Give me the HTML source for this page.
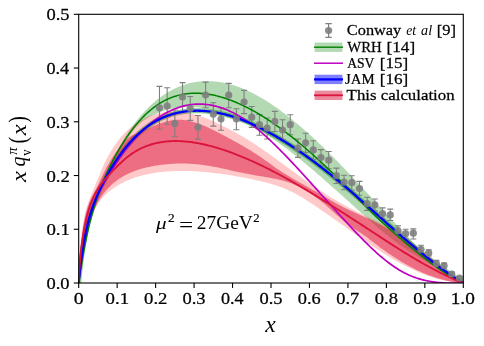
<!DOCTYPE html>
<html><head><meta charset="utf-8"><title>pion valence PDF</title>
<style>html,body{margin:0;padding:0;background:#fff;}svg{display:block;}text{font-family:"Liberation Serif",serif;fill:#000;}</style></head><body>
<svg width="484" height="346" viewBox="0 0 484 346">
<rect width="484" height="346" fill="#fff"/>
<defs><clipPath id="c"><rect x="78.7" y="14.3" width="384.6" height="268.7"/></clipPath></defs>
<g clip-path="url(#c)">
<path d="M78.70,283.00 L78.70,283.04 L78.71,283.04 L78.72,282.99 L78.74,282.90 L78.76,282.76 L78.79,282.58 L78.82,282.37 L78.85,282.11 L78.90,281.81 L78.94,281.47 L78.99,281.10 L79.05,280.68 L79.11,280.23 L79.17,279.75 L79.24,279.23 L79.32,278.68 L79.40,278.09 L79.48,277.47 L79.57,276.82 L79.67,276.14 L79.77,275.43 L79.87,274.70 L79.98,273.93 L80.09,273.13 L80.21,272.31 L80.33,271.47 L80.46,270.59 L80.59,269.70 L80.73,268.78 L80.87,267.84 L81.02,266.88 L81.17,265.89 L81.33,264.89 L81.49,263.87 L81.66,262.83 L81.83,261.77 L82.01,260.69 L82.19,259.60 L82.37,258.50 L82.57,257.38 L82.76,256.24 L82.96,255.10 L83.17,253.94 L83.38,252.77 L83.59,251.59 L83.81,250.40 L84.04,249.21 L84.27,248.00 L84.50,246.79 L84.74,245.57 L84.98,244.35 L85.23,243.12 L85.49,241.89 L85.74,240.66 L86.01,239.43 L86.28,238.19 L86.55,236.94 L86.83,235.70 L87.11,234.45 L87.40,233.21 L87.69,231.95 L87.99,230.70 L88.29,229.45 L88.60,228.19 L88.91,226.93 L89.22,225.67 L89.54,224.41 L89.87,223.15 L90.20,221.88 L90.54,220.62 L90.88,219.35 L91.22,218.08 L91.57,216.81 L91.93,215.54 L92.29,214.27 L92.65,213.00 L93.02,211.73 L93.40,210.46 L93.78,209.19 L94.16,207.92 L94.55,206.65 L94.94,205.37 L95.34,204.10 L95.75,202.83 L96.15,201.56 L96.57,200.29 L96.99,199.02 L97.41,197.75 L97.84,196.49 L98.27,195.22 L98.71,193.96 L99.15,192.69 L99.59,191.43 L100.05,190.17 L100.50,188.91 L100.96,187.65 L101.43,186.40 L101.90,185.14 L102.38,183.89 L102.86,182.64 L103.34,181.39 L103.83,180.15 L104.33,178.90 L104.83,177.67 L105.33,176.43 L105.84,175.19 L106.36,173.96 L106.88,172.73 L107.40,171.51 L107.93,170.29 L108.47,169.07 L109.00,167.85 L109.55,166.64 L110.10,165.44 L110.65,164.23 L111.21,163.03 L111.77,161.84 L112.34,160.65 L112.91,159.46 L113.49,158.28 L114.07,157.10 L114.66,155.93 L115.25,154.76 L115.85,153.60 L116.45,152.44 L117.05,151.29 L117.66,150.14 L118.28,149.00 L118.90,147.86 L119.53,146.73 L120.16,145.60 L120.79,144.48 L121.43,143.37 L122.08,142.26 L122.73,141.16 L123.38,140.07 L124.04,138.98 L124.71,137.90 L125.38,136.82 L126.05,135.75 L126.73,134.69 L127.41,133.64 L128.10,132.59 L128.79,131.55 L129.49,130.51 L130.20,129.49 L130.90,128.47 L131.62,127.46 L132.33,126.46 L133.06,125.46 L133.78,124.48 L134.51,123.50 L135.25,122.53 L135.99,121.57 L136.74,120.61 L137.49,119.67 L138.25,118.73 L139.01,117.80 L139.77,116.88 L140.54,115.98 L141.32,115.08 L142.10,114.18 L142.89,113.30 L143.68,112.43 L144.47,111.57 L145.27,110.72 L146.07,109.87 L146.88,109.04 L147.70,108.22 L148.52,107.41 L149.34,106.60 L150.17,105.81 L151.00,105.03 L151.84,104.26 L152.68,103.50 L153.53,102.75 L154.39,102.01 L155.24,101.29 L156.11,100.57 L156.97,99.87 L157.84,99.17 L158.72,98.49 L159.60,97.82 L160.49,97.16 L161.38,96.52 L162.28,95.88 L163.18,95.26 L164.08,94.65 L165.00,94.06 L165.91,93.47 L166.83,92.90 L167.76,92.34 L168.69,91.79 L169.62,91.25 L170.56,90.73 L171.51,90.22 L172.46,89.72 L173.41,89.24 L174.37,88.77 L175.33,88.31 L176.30,87.86 L177.27,87.43 L178.25,87.02 L179.24,86.61 L180.22,86.22 L181.22,85.84 L182.22,85.48 L183.22,85.13 L184.23,84.79 L185.24,84.47 L186.25,84.17 L187.28,83.87 L188.30,83.59 L189.33,83.33 L190.37,83.08 L191.41,82.85 L192.46,82.62 L193.51,82.42 L194.56,82.23 L195.63,82.05 L196.69,81.89 L197.76,81.75 L198.84,81.61 L199.92,81.50 L201.00,81.40 L202.09,81.31 L203.18,81.25 L204.28,81.19 L205.39,81.15 L206.50,81.13 L207.61,81.13 L208.73,81.14 L209.85,81.16 L210.98,81.21 L212.11,81.27 L213.25,81.34 L214.39,81.43 L215.54,81.54 L216.69,81.66 L217.85,81.81 L219.01,81.96 L220.18,82.14 L221.35,82.33 L222.53,82.54 L223.71,82.77 L224.90,83.01 L226.09,83.27 L227.28,83.55 L228.48,83.85 L229.69,84.16 L230.90,84.49 L232.11,84.84 L233.33,85.21 L234.56,85.59 L235.79,86.00 L237.02,86.42 L238.26,86.86 L239.51,87.31 L240.76,87.79 L242.01,88.28 L243.27,88.80 L244.53,89.33 L245.80,89.88 L247.07,90.45 L248.35,91.04 L249.63,91.64 L250.92,92.27 L252.21,92.91 L253.51,93.58 L254.81,94.26 L256.12,94.96 L257.43,95.68 L258.75,96.41 L260.07,97.17 L261.40,97.94 L262.73,98.73 L264.06,99.54 L265.40,100.36 L266.75,101.21 L268.10,102.07 L269.46,102.95 L270.82,103.84 L272.18,104.76 L273.55,105.69 L274.92,106.64 L276.30,107.60 L277.69,108.58 L279.08,109.58 L280.47,110.60 L281.87,111.63 L283.27,112.68 L284.68,113.75 L286.10,114.84 L287.51,115.94 L288.94,117.05 L290.36,118.18 L291.80,119.33 L293.23,120.50 L294.68,121.68 L296.12,122.88 L297.58,124.09 L299.03,125.32 L300.49,126.57 L301.96,127.83 L303.43,129.11 L304.91,130.40 L306.39,131.71 L307.87,133.03 L309.36,134.37 L310.86,135.72 L312.36,137.09 L313.86,138.48 L315.37,139.88 L316.89,141.29 L318.41,142.72 L319.93,144.16 L321.46,145.62 L323.00,147.09 L324.54,148.58 L326.08,150.09 L327.63,151.60 L329.18,153.13 L330.74,154.68 L332.30,156.24 L333.87,157.81 L335.44,159.40 L337.02,161.00 L338.60,162.62 L340.19,164.25 L341.78,165.89 L343.38,167.54 L344.98,169.21 L346.59,170.90 L348.20,172.59 L349.81,174.30 L351.44,176.02 L353.06,177.75 L354.69,179.49 L356.33,181.25 L357.97,183.01 L359.61,184.78 L361.26,186.56 L362.92,188.35 L364.58,190.15 L366.24,191.96 L367.91,193.78 L369.59,195.60 L371.26,197.43 L372.95,199.27 L374.64,201.11 L376.33,202.96 L378.03,204.81 L379.73,206.67 L381.44,208.53 L383.15,210.40 L384.87,212.27 L386.59,214.14 L388.32,216.02 L390.05,217.90 L391.79,219.78 L393.53,221.66 L395.28,223.55 L397.03,225.43 L398.79,227.31 L400.55,229.18 L402.31,231.06 L404.08,232.92 L405.86,234.79 L407.64,236.64 L409.42,238.48 L411.22,240.32 L413.01,242.14 L414.81,243.95 L416.61,245.75 L418.42,247.53 L420.24,249.30 L422.06,251.05 L423.88,252.78 L425.71,254.49 L427.54,256.19 L429.38,257.86 L431.23,259.51 L433.07,261.13 L434.93,262.73 L436.78,264.31 L438.65,265.86 L440.51,267.38 L442.39,268.87 L444.26,270.33 L446.15,271.76 L448.03,273.15 L449.92,274.51 L451.82,275.84 L453.72,277.13 L455.63,278.38 L457.54,279.60 L459.45,280.77 L461.37,281.91 L463.30,283.00 L463.30,283.00 L461.37,281.85 L459.45,280.72 L457.54,279.60 L455.63,278.49 L453.72,277.39 L451.82,276.29 L449.92,275.21 L448.03,274.13 L446.15,273.06 L444.26,272.00 L442.39,270.94 L440.51,269.88 L438.65,268.82 L436.78,267.77 L434.93,266.72 L433.07,265.66 L431.23,264.60 L429.38,263.54 L427.54,262.48 L425.71,261.41 L423.88,260.34 L422.06,259.26 L420.24,258.17 L418.42,257.07 L416.61,255.96 L414.81,254.84 L413.01,253.71 L411.22,252.57 L409.42,251.42 L407.64,250.24 L405.86,249.06 L404.08,247.85 L402.31,246.63 L400.55,245.39 L398.79,244.13 L397.03,242.85 L395.28,241.55 L393.53,240.23 L391.79,238.89 L390.05,237.54 L388.32,236.17 L386.59,234.78 L384.87,233.38 L383.15,231.96 L381.44,230.54 L379.73,229.10 L378.03,227.65 L376.33,226.20 L374.64,224.73 L372.95,223.26 L371.26,221.79 L369.59,220.31 L367.91,218.83 L366.24,217.34 L364.58,215.85 L362.92,214.37 L361.26,212.88 L359.61,211.40 L357.97,209.92 L356.33,208.44 L354.69,206.97 L353.06,205.50 L351.44,204.03 L349.81,202.57 L348.20,201.12 L346.59,199.67 L344.98,198.23 L343.38,196.79 L341.78,195.36 L340.19,193.93 L338.60,192.51 L337.02,191.09 L335.44,189.69 L333.87,188.29 L332.30,186.89 L330.74,185.51 L329.18,184.13 L327.63,182.76 L326.08,181.40 L324.54,180.04 L323.00,178.69 L321.46,177.36 L319.93,176.03 L318.41,174.70 L316.89,173.39 L315.37,172.09 L313.86,170.80 L312.36,169.51 L310.86,168.24 L309.36,166.98 L307.87,165.72 L306.39,164.48 L304.91,163.25 L303.43,162.03 L301.96,160.82 L300.49,159.62 L299.03,158.43 L297.58,157.26 L296.12,156.09 L294.68,154.94 L293.23,153.80 L291.80,152.68 L290.36,151.56 L288.94,150.46 L287.51,149.37 L286.10,148.30 L284.68,147.24 L283.27,146.19 L281.87,145.16 L280.47,144.14 L279.08,143.13 L277.69,142.14 L276.30,141.17 L274.92,140.20 L273.55,139.26 L272.18,138.32 L270.82,137.41 L269.46,136.50 L268.10,135.61 L266.75,134.73 L265.40,133.87 L264.06,133.03 L262.73,132.19 L261.40,131.37 L260.07,130.57 L258.75,129.78 L257.43,129.00 L256.12,128.24 L254.81,127.49 L253.51,126.75 L252.21,126.03 L250.92,125.32 L249.63,124.63 L248.35,123.95 L247.07,123.28 L245.80,122.63 L244.53,121.99 L243.27,121.37 L242.01,120.76 L240.76,120.16 L239.51,119.57 L238.26,119.00 L237.02,118.45 L235.79,117.90 L234.56,117.37 L233.33,116.86 L232.11,116.36 L230.90,115.87 L229.69,115.39 L228.48,114.93 L227.28,114.48 L226.09,114.04 L224.90,113.62 L223.71,113.21 L222.53,112.82 L221.35,112.43 L220.18,112.06 L219.01,111.71 L217.85,111.37 L216.69,111.04 L215.54,110.72 L214.39,110.41 L213.25,110.12 L212.11,109.85 L210.98,109.58 L209.85,109.33 L208.73,109.09 L207.61,108.86 L206.50,108.65 L205.39,108.45 L204.28,108.26 L203.18,108.09 L202.09,107.93 L201.00,107.78 L199.92,107.64 L198.84,107.51 L197.76,107.40 L196.69,107.30 L195.63,107.21 L194.56,107.14 L193.51,107.07 L192.46,107.02 L191.41,106.99 L190.37,106.96 L189.33,106.94 L188.30,106.94 L187.28,106.95 L186.25,106.97 L185.24,107.00 L184.23,107.05 L183.22,107.11 L182.22,107.17 L181.22,107.25 L180.22,107.35 L179.24,107.45 L178.25,107.56 L177.27,107.69 L176.30,107.83 L175.33,107.97 L174.37,108.13 L173.41,108.31 L172.46,108.49 L171.51,108.68 L170.56,108.89 L169.62,109.10 L168.69,109.33 L167.76,109.57 L166.83,109.82 L165.91,110.08 L165.00,110.35 L164.08,110.63 L163.18,110.92 L162.28,111.22 L161.38,111.54 L160.49,111.86 L159.60,112.19 L158.72,112.54 L157.84,112.89 L156.97,113.26 L156.11,113.63 L155.24,114.02 L154.39,114.42 L153.53,114.82 L152.68,115.24 L151.84,115.67 L151.00,116.10 L150.17,116.55 L149.34,117.01 L148.52,117.47 L147.70,117.95 L146.88,118.44 L146.07,118.94 L145.27,119.45 L144.47,119.98 L143.68,120.52 L142.89,121.09 L142.10,121.67 L141.32,122.28 L140.54,122.92 L139.77,123.57 L139.01,124.26 L138.25,124.97 L137.49,125.72 L136.74,126.50 L135.99,127.31 L135.25,128.15 L134.51,129.02 L133.78,129.91 L133.06,130.83 L132.33,131.77 L131.62,132.72 L130.90,133.69 L130.20,134.66 L129.49,135.65 L128.79,136.65 L128.10,137.64 L127.41,138.64 L126.73,139.65 L126.05,140.65 L125.38,141.66 L124.71,142.67 L124.04,143.69 L123.38,144.70 L122.73,145.72 L122.08,146.74 L121.43,147.77 L120.79,148.80 L120.16,149.83 L119.53,150.87 L118.90,151.90 L118.28,152.95 L117.66,153.99 L117.05,155.04 L116.45,156.09 L115.85,157.15 L115.25,158.21 L114.66,159.27 L114.07,160.34 L113.49,161.41 L112.91,162.48 L112.34,163.56 L111.77,164.64 L111.21,165.73 L110.65,166.82 L110.10,167.91 L109.55,169.01 L109.00,170.11 L108.47,171.22 L107.93,172.33 L107.40,173.44 L106.88,174.56 L106.36,175.69 L105.84,176.82 L105.33,177.95 L104.83,179.09 L104.33,180.23 L103.83,181.38 L103.34,182.53 L102.86,183.69 L102.38,184.85 L101.90,186.02 L101.43,187.19 L100.96,188.37 L100.50,189.55 L100.05,190.74 L99.59,191.93 L99.15,193.13 L98.71,194.33 L98.27,195.54 L97.84,196.76 L97.41,197.98 L96.99,199.20 L96.57,200.44 L96.15,201.67 L95.75,202.92 L95.34,204.17 L94.94,205.42 L94.55,206.68 L94.16,207.95 L93.78,209.22 L93.40,210.50 L93.02,211.78 L92.65,213.08 L92.29,214.37 L91.93,215.67 L91.57,216.98 L91.22,218.29 L90.88,219.61 L90.54,220.93 L90.20,222.25 L89.87,223.58 L89.54,224.91 L89.22,226.24 L88.91,227.58 L88.60,228.91 L88.29,230.25 L87.99,231.60 L87.69,232.94 L87.40,234.29 L87.11,235.63 L86.83,236.98 L86.55,238.33 L86.28,239.68 L86.01,241.02 L85.74,242.37 L85.49,243.72 L85.23,245.06 L84.98,246.40 L84.74,247.72 L84.50,249.03 L84.27,250.33 L84.04,251.60 L83.81,252.86 L83.59,254.08 L83.38,255.28 L83.17,256.46 L82.96,257.61 L82.76,258.73 L82.57,259.83 L82.37,260.90 L82.19,261.95 L82.01,262.97 L81.83,263.96 L81.66,264.93 L81.49,265.88 L81.33,266.80 L81.17,267.69 L81.02,268.56 L80.87,269.41 L80.73,270.22 L80.59,271.02 L80.46,271.78 L80.33,272.53 L80.21,273.24 L80.09,273.94 L79.98,274.60 L79.87,275.24 L79.77,275.86 L79.67,276.45 L79.57,277.01 L79.48,277.56 L79.40,278.07 L79.32,278.56 L79.24,279.03 L79.17,279.47 L79.11,279.88 L79.05,280.27 L78.99,280.63 L78.94,280.97 L78.90,281.29 L78.85,281.58 L78.82,281.84 L78.79,282.08 L78.76,282.30 L78.74,282.49 L78.72,282.65 L78.71,282.79 L78.70,282.91 L78.70,283.00Z" fill="#008000" fill-opacity="0.3"/>
<path d="M78.70,283.00 L78.70,282.86 L78.71,282.67 L78.72,282.43 L78.74,282.15 L78.76,281.82 L78.79,281.46 L78.82,281.05 L78.85,280.60 L78.90,280.11 L78.94,279.59 L78.99,279.02 L79.05,278.42 L79.11,277.79 L79.17,277.11 L79.24,276.41 L79.32,275.67 L79.40,274.90 L79.48,274.10 L79.57,273.27 L79.67,272.41 L79.77,271.52 L79.87,270.61 L79.98,269.67 L80.09,268.70 L80.21,267.72 L80.33,266.70 L80.46,265.67 L80.59,264.61 L80.73,263.54 L80.87,262.44 L81.02,261.33 L81.17,260.20 L81.33,259.05 L81.49,257.89 L81.66,256.71 L81.83,255.52 L82.01,254.32 L82.19,253.10 L82.37,251.88 L82.57,250.64 L82.76,249.40 L82.96,248.15 L83.17,246.89 L83.38,245.63 L83.59,244.36 L83.81,243.09 L84.04,241.81 L84.27,240.54 L84.50,239.26 L84.74,237.98 L84.98,236.71 L85.23,235.43 L85.49,234.16 L85.74,232.90 L86.01,231.63 L86.28,230.38 L86.55,229.13 L86.83,227.89 L87.11,226.66 L87.40,225.43 L87.69,224.22 L87.99,223.02 L88.29,221.83 L88.60,220.66 L88.91,219.49 L89.22,218.34 L89.54,217.19 L89.87,216.06 L90.20,214.94 L90.54,213.82 L90.88,212.72 L91.22,211.62 L91.57,210.54 L91.93,209.46 L92.29,208.39 L92.65,207.33 L93.02,206.28 L93.40,205.23 L93.78,204.19 L94.16,203.16 L94.55,202.13 L94.94,201.11 L95.34,200.10 L95.75,199.09 L96.15,198.09 L96.57,197.09 L96.99,196.10 L97.41,195.11 L97.84,194.12 L98.27,193.14 L98.71,192.16 L99.15,191.19 L99.59,190.22 L100.05,189.25 L100.50,188.28 L100.96,187.32 L101.43,186.35 L101.90,185.39 L102.38,184.43 L102.86,183.47 L103.34,182.51 L103.83,181.55 L104.33,180.59 L104.83,179.64 L105.33,178.68 L105.84,177.73 L106.36,176.77 L106.88,175.82 L107.40,174.87 L107.93,173.92 L108.47,172.98 L109.00,172.04 L109.55,171.10 L110.10,170.16 L110.65,169.22 L111.21,168.29 L111.77,167.36 L112.34,166.43 L112.91,165.51 L113.49,164.59 L114.07,163.67 L114.66,162.75 L115.25,161.84 L115.85,160.94 L116.45,160.03 L117.05,159.14 L117.66,158.24 L118.28,157.35 L118.90,156.47 L119.53,155.59 L120.16,154.71 L120.79,153.84 L121.43,152.97 L122.08,152.11 L122.73,151.26 L123.38,150.41 L124.04,149.57 L124.71,148.73 L125.38,147.89 L126.05,147.07 L126.73,146.25 L127.41,145.43 L128.10,144.63 L128.79,143.83 L129.49,143.03 L130.20,142.24 L130.90,141.46 L131.62,140.69 L132.33,139.93 L133.06,139.17 L133.78,138.42 L134.51,137.67 L135.25,136.94 L135.99,136.21 L136.74,135.49 L137.49,134.78 L138.25,134.08 L139.01,133.38 L139.77,132.70 L140.54,132.02 L141.32,131.35 L142.10,130.69 L142.89,130.04 L143.68,129.40 L144.47,128.77 L145.27,128.15 L146.07,127.54 L146.88,126.94 L147.70,126.35 L148.52,125.76 L149.34,125.19 L150.17,124.63 L151.00,124.08 L151.84,123.54 L152.68,123.01 L153.53,122.50 L154.39,121.99 L155.24,121.49 L156.11,121.01 L156.97,120.53 L157.84,120.07 L158.72,119.62 L159.60,119.17 L160.49,118.74 L161.38,118.32 L162.28,117.91 L163.18,117.52 L164.08,117.13 L165.00,116.75 L165.91,116.39 L166.83,116.04 L167.76,115.69 L168.69,115.36 L169.62,115.04 L170.56,114.73 L171.51,114.44 L172.46,114.15 L173.41,113.88 L174.37,113.61 L175.33,113.36 L176.30,113.12 L177.27,112.89 L178.25,112.67 L179.24,112.46 L180.22,112.27 L181.22,112.08 L182.22,111.91 L183.22,111.75 L184.23,111.60 L185.24,111.46 L186.25,111.34 L187.28,111.22 L188.30,111.12 L189.33,111.03 L190.37,110.95 L191.41,110.88 L192.46,110.83 L193.51,110.78 L194.56,110.75 L195.63,110.73 L196.69,110.72 L197.76,110.72 L198.84,110.74 L199.92,110.77 L201.00,110.81 L202.09,110.86 L203.18,110.92 L204.28,110.99 L205.39,111.08 L206.50,111.18 L207.61,111.29 L208.73,111.41 L209.85,111.55 L210.98,111.69 L212.11,111.85 L213.25,112.03 L214.39,112.21 L215.54,112.41 L216.69,112.61 L217.85,112.83 L219.01,113.07 L220.18,113.31 L221.35,113.57 L222.53,113.84 L223.71,114.12 L224.90,114.42 L226.09,114.72 L227.28,115.04 L228.48,115.38 L229.69,115.72 L230.90,116.08 L232.11,116.45 L233.33,116.83 L234.56,117.23 L235.79,117.63 L237.02,118.05 L238.26,118.49 L239.51,118.93 L240.76,119.39 L242.01,119.86 L243.27,120.35 L244.53,120.84 L245.80,121.35 L247.07,121.87 L248.35,122.41 L249.63,122.96 L250.92,123.52 L252.21,124.09 L253.51,124.68 L254.81,125.28 L256.12,125.89 L257.43,126.51 L258.75,127.15 L260.07,127.80 L261.40,128.46 L262.73,129.14 L264.06,129.83 L265.40,130.53 L266.75,131.24 L268.10,131.97 L269.46,132.70 L270.82,133.45 L272.18,134.22 L273.55,134.99 L274.92,135.78 L276.30,136.58 L277.69,137.39 L279.08,138.22 L280.47,139.05 L281.87,139.90 L283.27,140.76 L284.68,141.64 L286.10,142.53 L287.51,143.42 L288.94,144.33 L290.36,145.26 L291.80,146.19 L293.23,147.14 L294.68,148.10 L296.12,149.07 L297.58,150.05 L299.03,151.05 L300.49,152.06 L301.96,153.08 L303.43,154.11 L304.91,155.15 L306.39,156.21 L307.87,157.27 L309.36,158.35 L310.86,159.44 L312.36,160.55 L313.86,161.66 L315.37,162.79 L316.89,163.93 L318.41,165.08 L319.93,166.24 L321.46,167.41 L323.00,168.60 L324.54,169.80 L326.08,171.00 L327.63,172.23 L329.18,173.46 L330.74,174.70 L332.30,175.96 L333.87,177.22 L335.44,178.50 L337.02,179.79 L338.60,181.09 L340.19,182.41 L341.78,183.73 L343.38,185.07 L344.98,186.41 L346.59,187.77 L348.20,189.14 L349.81,190.52 L351.44,191.91 L353.06,193.32 L354.69,194.73 L356.33,196.16 L357.97,197.59 L359.61,199.04 L361.26,200.49 L362.92,201.95 L364.58,203.42 L366.24,204.90 L367.91,206.38 L369.59,207.87 L371.26,209.37 L372.95,210.87 L374.64,212.38 L376.33,213.89 L378.03,215.41 L379.73,216.93 L381.44,218.45 L383.15,219.98 L384.87,221.51 L386.59,223.04 L388.32,224.57 L390.05,226.10 L391.79,227.64 L393.53,229.17 L395.28,230.70 L397.03,232.24 L398.79,233.77 L400.55,235.30 L402.31,236.83 L404.08,238.35 L405.86,239.88 L407.64,241.39 L409.42,242.91 L411.22,244.42 L413.01,245.92 L414.81,247.42 L416.61,248.92 L418.42,250.40 L420.24,251.89 L422.06,253.36 L423.88,254.82 L425.71,256.28 L427.54,257.73 L429.38,259.17 L431.23,260.60 L433.07,262.02 L434.93,263.43 L436.78,264.83 L438.65,266.22 L440.51,267.59 L442.39,268.95 L444.26,270.31 L446.15,271.64 L448.03,272.97 L449.92,274.27 L451.82,275.57 L453.72,276.85 L455.63,278.11 L457.54,279.36 L459.45,280.59 L461.37,281.80 L463.30,283.00" fill="none" stroke="#008000" stroke-opacity="0.45" stroke-width="5"/>
<path d="M78.70,283.00 L78.70,281.81 L78.71,280.60 L78.72,279.36 L78.74,278.09 L78.76,276.80 L78.79,275.48 L78.82,274.15 L78.85,272.79 L78.90,271.42 L78.94,270.03 L78.99,268.62 L79.05,267.19 L79.11,265.76 L79.17,264.31 L79.24,262.85 L79.32,261.38 L79.40,259.90 L79.48,258.41 L79.57,256.92 L79.67,255.42 L79.77,253.92 L79.87,252.42 L79.98,250.92 L80.09,249.42 L80.21,247.92 L80.33,246.42 L80.46,244.93 L80.59,243.44 L80.73,241.96 L80.87,240.49 L81.02,239.02 L81.17,237.57 L81.33,236.13 L81.49,234.71 L81.66,233.29 L81.83,231.90 L82.01,230.52 L82.19,229.16 L82.37,227.82 L82.57,226.51 L82.76,225.21 L82.96,223.94 L83.17,222.69 L83.38,221.47 L83.59,220.28 L83.81,219.11 L84.04,217.96 L84.27,216.84 L84.50,215.74 L84.74,214.67 L84.98,213.62 L85.23,212.58 L85.49,211.57 L85.74,210.58 L86.01,209.61 L86.28,208.65 L86.55,207.72 L86.83,206.80 L87.11,205.89 L87.40,204.99 L87.69,204.11 L87.99,203.24 L88.29,202.38 L88.60,201.52 L88.91,200.67 L89.22,199.83 L89.54,198.99 L89.87,198.16 L90.20,197.32 L90.54,196.49 L90.88,195.65 L91.22,194.81 L91.57,193.97 L91.93,193.12 L92.29,192.27 L92.65,191.41 L93.02,190.54 L93.40,189.66 L93.78,188.76 L94.16,187.86 L94.55,186.94 L94.94,186.01 L95.34,185.06 L95.75,184.09 L96.15,183.10 L96.57,182.09 L96.99,181.06 L97.41,180.01 L97.84,178.95 L98.27,177.87 L98.71,176.78 L99.15,175.68 L99.59,174.57 L100.05,173.46 L100.50,172.35 L100.96,171.23 L101.43,170.12 L101.90,169.02 L102.38,167.92 L102.86,166.82 L103.34,165.74 L103.83,164.67 L104.33,163.61 L104.83,162.56 L105.33,161.52 L105.84,160.49 L106.36,159.47 L106.88,158.46 L107.40,157.47 L107.93,156.48 L108.47,155.50 L109.00,154.53 L109.55,153.57 L110.10,152.62 L110.65,151.69 L111.21,150.76 L111.77,149.84 L112.34,148.93 L112.91,148.04 L113.49,147.15 L114.07,146.28 L114.66,145.41 L115.25,144.56 L115.85,143.71 L116.45,142.88 L117.05,142.06 L117.66,141.25 L118.28,140.44 L118.90,139.65 L119.53,138.87 L120.16,138.10 L120.79,137.34 L121.43,136.59 L122.08,135.85 L122.73,135.13 L123.38,134.41 L124.04,133.70 L124.71,133.01 L125.38,132.32 L126.05,131.65 L126.73,130.99 L127.41,130.33 L128.10,129.69 L128.79,129.06 L129.49,128.44 L130.20,127.83 L130.90,127.23 L131.62,126.65 L132.33,126.07 L133.06,125.50 L133.78,124.95 L134.51,124.41 L135.25,123.87 L135.99,123.35 L136.74,122.84 L137.49,122.34 L138.25,121.85 L139.01,121.37 L139.77,120.91 L140.54,120.45 L141.32,120.01 L142.10,119.57 L142.89,119.15 L143.68,118.74 L144.47,118.34 L145.27,117.95 L146.07,117.58 L146.88,117.21 L147.70,116.86 L148.52,116.51 L149.34,116.18 L150.17,115.86 L151.00,115.55 L151.84,115.25 L152.68,114.96 L153.53,114.69 L154.39,114.43 L155.24,114.17 L156.11,113.93 L156.97,113.70 L157.84,113.48 L158.72,113.28 L159.60,113.08 L160.49,112.90 L161.38,112.73 L162.28,112.57 L163.18,112.42 L164.08,112.28 L165.00,112.16 L165.91,112.05 L166.83,111.95 L167.76,111.86 L168.69,111.78 L169.62,111.72 L170.56,111.67 L171.51,111.63 L172.46,111.61 L173.41,111.60 L174.37,111.60 L175.33,111.61 L176.30,111.64 L177.27,111.68 L178.25,111.73 L179.24,111.79 L180.22,111.87 L181.22,111.97 L182.22,112.07 L183.22,112.19 L184.23,112.32 L185.24,112.47 L186.25,112.63 L187.28,112.80 L188.30,112.99 L189.33,113.19 L190.37,113.41 L191.41,113.64 L192.46,113.88 L193.51,114.14 L194.56,114.42 L195.63,114.70 L196.69,115.01 L197.76,115.32 L198.84,115.65 L199.92,116.00 L201.00,116.36 L202.09,116.73 L203.18,117.12 L204.28,117.53 L205.39,117.95 L206.50,118.39 L207.61,118.84 L208.73,119.30 L209.85,119.78 L210.98,120.27 L212.11,120.77 L213.25,121.28 L214.39,121.81 L215.54,122.35 L216.69,122.90 L217.85,123.46 L219.01,124.02 L220.18,124.60 L221.35,125.19 L222.53,125.78 L223.71,126.39 L224.90,127.00 L226.09,127.62 L227.28,128.24 L228.48,128.87 L229.69,129.51 L230.90,130.15 L232.11,130.80 L233.33,131.45 L234.56,132.11 L235.79,132.78 L237.02,133.46 L238.26,134.14 L239.51,134.84 L240.76,135.55 L242.01,136.26 L243.27,136.99 L244.53,137.74 L245.80,138.49 L247.07,139.27 L248.35,140.05 L249.63,140.85 L250.92,141.67 L252.21,142.49 L253.51,143.33 L254.81,144.18 L256.12,145.05 L257.43,145.92 L258.75,146.81 L260.07,147.71 L261.40,148.62 L262.73,149.54 L264.06,150.46 L265.40,151.40 L266.75,152.35 L268.10,153.30 L269.46,154.27 L270.82,155.24 L272.18,156.22 L273.55,157.21 L274.92,158.20 L276.30,159.20 L277.69,160.20 L279.08,161.21 L280.47,162.23 L281.87,163.25 L283.27,164.28 L284.68,165.31 L286.10,166.34 L287.51,167.38 L288.94,168.42 L290.36,169.46 L291.80,170.50 L293.23,171.55 L294.68,172.60 L296.12,173.64 L297.58,174.69 L299.03,175.74 L300.49,176.79 L301.96,177.84 L303.43,178.89 L304.91,179.94 L306.39,180.98 L307.87,182.02 L309.36,183.06 L310.86,184.10 L312.36,185.14 L313.86,186.17 L315.37,187.20 L316.89,188.22 L318.41,189.24 L319.93,190.25 L321.46,191.26 L323.00,192.26 L324.54,193.26 L326.08,194.24 L327.63,195.23 L329.18,196.20 L330.74,197.17 L332.30,198.13 L333.87,199.08 L335.44,200.02 L337.02,200.95 L338.60,201.88 L340.19,202.79 L341.78,203.69 L343.38,204.58 L344.98,205.47 L346.59,206.34 L348.20,207.20 L349.81,208.05 L351.44,208.90 L353.06,209.74 L354.69,210.57 L356.33,211.40 L357.97,212.22 L359.61,213.04 L361.26,213.85 L362.92,214.66 L364.58,215.47 L366.24,216.27 L367.91,217.07 L369.59,217.88 L371.26,218.68 L372.95,219.50 L374.64,220.31 L376.33,221.14 L378.03,221.98 L379.73,222.83 L381.44,223.69 L383.15,224.57 L384.87,225.47 L386.59,226.40 L388.32,227.34 L390.05,228.31 L391.79,229.31 L393.53,230.33 L395.28,231.38 L397.03,232.46 L398.79,233.57 L400.55,234.71 L402.31,235.87 L404.08,237.06 L405.86,238.28 L407.64,239.52 L409.42,240.80 L411.22,242.09 L413.01,243.42 L414.81,244.77 L416.61,246.14 L418.42,247.54 L420.24,248.96 L422.06,250.41 L423.88,251.86 L425.71,253.34 L427.54,254.83 L429.38,256.33 L431.23,257.84 L433.07,259.35 L434.93,260.87 L436.78,262.40 L438.65,263.93 L440.51,265.45 L442.39,266.98 L444.26,268.50 L446.15,270.01 L448.03,271.52 L449.92,273.01 L451.82,274.49 L453.72,275.96 L455.63,277.41 L457.54,278.84 L459.45,280.25 L461.37,281.64 L463.30,283.00 L463.30,283.00 L461.37,282.91 L459.45,282.78 L457.54,282.62 L455.63,282.42 L453.72,282.19 L451.82,281.93 L449.92,281.63 L448.03,281.30 L446.15,280.94 L444.26,280.54 L442.39,280.12 L440.51,279.67 L438.65,279.18 L436.78,278.67 L434.93,278.14 L433.07,277.57 L431.23,276.98 L429.38,276.36 L427.54,275.71 L425.71,275.04 L423.88,274.35 L422.06,273.63 L420.24,272.89 L418.42,272.13 L416.61,271.34 L414.81,270.54 L413.01,269.71 L411.22,268.86 L409.42,268.00 L407.64,267.11 L405.86,266.21 L404.08,265.29 L402.31,264.35 L400.55,263.40 L398.79,262.43 L397.03,261.45 L395.28,260.45 L393.53,259.43 L391.79,258.41 L390.05,257.37 L388.32,256.32 L386.59,255.25 L384.87,254.18 L383.15,253.10 L381.44,252.01 L379.73,250.90 L378.03,249.79 L376.33,248.67 L374.64,247.55 L372.95,246.42 L371.26,245.28 L369.59,244.14 L367.91,242.99 L366.24,241.84 L364.58,240.68 L362.92,239.52 L361.26,238.36 L359.61,237.20 L357.97,236.04 L356.33,234.88 L354.69,233.71 L353.06,232.55 L351.44,231.39 L349.81,230.23 L348.20,229.07 L346.59,227.92 L344.98,226.77 L343.38,225.62 L341.78,224.48 L340.19,223.35 L338.60,222.21 L337.02,221.09 L335.44,219.96 L333.87,218.85 L332.30,217.74 L330.74,216.63 L329.18,215.54 L327.63,214.45 L326.08,213.37 L324.54,212.30 L323.00,211.23 L321.46,210.18 L319.93,209.13 L318.41,208.09 L316.89,207.07 L315.37,206.05 L313.86,205.05 L312.36,204.05 L310.86,203.07 L309.36,202.10 L307.87,201.14 L306.39,200.19 L304.91,199.26 L303.43,198.35 L301.96,197.46 L300.49,196.58 L299.03,195.73 L297.58,194.90 L296.12,194.09 L294.68,193.31 L293.23,192.56 L291.80,191.84 L290.36,191.14 L288.94,190.47 L287.51,189.83 L286.10,189.21 L284.68,188.62 L283.27,188.05 L281.87,187.50 L280.47,186.97 L279.08,186.47 L277.69,185.98 L276.30,185.52 L274.92,185.07 L273.55,184.64 L272.18,184.22 L270.82,183.82 L269.46,183.44 L268.10,183.07 L266.75,182.71 L265.40,182.36 L264.06,182.03 L262.73,181.70 L261.40,181.39 L260.07,181.08 L258.75,180.78 L257.43,180.48 L256.12,180.20 L254.81,179.91 L253.51,179.63 L252.21,179.36 L250.92,179.09 L249.63,178.82 L248.35,178.56 L247.07,178.30 L245.80,178.05 L244.53,177.80 L243.27,177.56 L242.01,177.32 L240.76,177.08 L239.51,176.85 L238.26,176.63 L237.02,176.40 L235.79,176.19 L234.56,175.97 L233.33,175.76 L232.11,175.56 L230.90,175.36 L229.69,175.16 L228.48,174.97 L227.28,174.79 L226.09,174.60 L224.90,174.42 L223.71,174.25 L222.53,174.08 L221.35,173.92 L220.18,173.76 L219.01,173.60 L217.85,173.45 L216.69,173.30 L215.54,173.16 L214.39,173.02 L213.25,172.89 L212.11,172.76 L210.98,172.63 L209.85,172.51 L208.73,172.40 L207.61,172.29 L206.50,172.18 L205.39,172.08 L204.28,171.98 L203.18,171.89 L202.09,171.80 L201.00,171.71 L199.92,171.63 L198.84,171.56 L197.76,171.48 L196.69,171.42 L195.63,171.35 L194.56,171.30 L193.51,171.24 L192.46,171.20 L191.41,171.15 L190.37,171.11 L189.33,171.08 L188.30,171.04 L187.28,171.02 L186.25,171.00 L185.24,170.98 L184.23,170.97 L183.22,170.96 L182.22,170.95 L181.22,170.95 L180.22,170.96 L179.24,170.97 L178.25,170.98 L177.27,171.00 L176.30,171.03 L175.33,171.05 L174.37,171.09 L173.41,171.12 L172.46,171.17 L171.51,171.21 L170.56,171.26 L169.62,171.32 L168.69,171.38 L167.76,171.44 L166.83,171.51 L165.91,171.58 L165.00,171.66 L164.08,171.74 L163.18,171.83 L162.28,171.92 L161.38,172.02 L160.49,172.12 L159.60,172.22 L158.72,172.33 L157.84,172.45 L156.97,172.57 L156.11,172.69 L155.24,172.82 L154.39,172.95 L153.53,173.09 L152.68,173.23 L151.84,173.38 L151.00,173.53 L150.17,173.68 L149.34,173.84 L148.52,174.01 L147.70,174.18 L146.88,174.35 L146.07,174.53 L145.27,174.72 L144.47,174.90 L143.68,175.10 L142.89,175.29 L142.10,175.50 L141.32,175.70 L140.54,175.91 L139.77,176.13 L139.01,176.35 L138.25,176.57 L137.49,176.80 L136.74,177.04 L135.99,177.28 L135.25,177.52 L134.51,177.77 L133.78,178.02 L133.06,178.28 L132.33,178.54 L131.62,178.81 L130.90,179.08 L130.20,179.36 L129.49,179.64 L128.79,179.92 L128.10,180.21 L127.41,180.51 L126.73,180.81 L126.05,181.11 L125.38,181.42 L124.71,181.73 L124.04,182.05 L123.38,182.38 L122.73,182.70 L122.08,183.04 L121.43,183.37 L120.79,183.72 L120.16,184.06 L119.53,184.41 L118.90,184.77 L118.28,185.13 L117.66,185.50 L117.05,185.87 L116.45,186.24 L115.85,186.63 L115.25,187.01 L114.66,187.40 L114.07,187.80 L113.49,188.20 L112.91,188.61 L112.34,189.02 L111.77,189.44 L111.21,189.87 L110.65,190.30 L110.10,190.73 L109.55,191.18 L109.00,191.62 L108.47,192.08 L107.93,192.54 L107.40,193.00 L106.88,193.47 L106.36,193.95 L105.84,194.44 L105.33,194.93 L104.83,195.42 L104.33,195.92 L103.83,196.43 L103.34,196.95 L102.86,197.47 L102.38,198.00 L101.90,198.54 L101.43,199.09 L100.96,199.65 L100.50,200.22 L100.05,200.81 L99.59,201.41 L99.15,202.03 L98.71,202.66 L98.27,203.32 L97.84,203.99 L97.41,204.68 L96.99,205.40 L96.57,206.14 L96.15,206.91 L95.75,207.70 L95.34,208.52 L94.94,209.36 L94.55,210.24 L94.16,211.15 L93.78,212.09 L93.40,213.06 L93.02,214.05 L92.65,215.08 L92.29,216.13 L91.93,217.21 L91.57,218.31 L91.22,219.43 L90.88,220.58 L90.54,221.74 L90.20,222.93 L89.87,224.13 L89.54,225.35 L89.22,226.59 L88.91,227.84 L88.60,229.10 L88.29,230.37 L87.99,231.66 L87.69,232.96 L87.40,234.26 L87.11,235.57 L86.83,236.89 L86.55,238.22 L86.28,239.54 L86.01,240.87 L85.74,242.20 L85.49,243.53 L85.23,244.86 L84.98,246.19 L84.74,247.52 L84.50,248.84 L84.27,250.15 L84.04,251.46 L83.81,252.76 L83.59,254.05 L83.38,255.33 L83.17,256.59 L82.96,257.85 L82.76,259.09 L82.57,260.31 L82.37,261.52 L82.19,262.71 L82.01,263.88 L81.83,265.03 L81.66,266.16 L81.49,267.27 L81.33,268.35 L81.17,269.41 L81.02,270.45 L80.87,271.45 L80.73,272.43 L80.59,273.38 L80.46,274.29 L80.33,275.18 L80.21,276.03 L80.09,276.84 L79.98,277.63 L79.87,278.37 L79.77,279.08 L79.67,279.74 L79.57,280.37 L79.48,280.95 L79.40,281.50 L79.32,281.99 L79.24,282.45 L79.17,282.85 L79.11,283.21 L79.05,283.52 L78.99,283.78 L78.94,283.99 L78.90,284.15 L78.85,284.25 L78.82,284.30 L78.79,284.29 L78.76,284.22 L78.74,284.10 L78.72,283.92 L78.71,283.67 L78.70,283.37 L78.70,283.00Z" fill="#ff0000" fill-opacity="0.21"/>
<path d="M78.70,283.00 L78.70,282.01 L78.71,280.99 L78.72,279.94 L78.74,278.87 L78.76,277.77 L78.79,276.65 L78.82,275.50 L78.85,274.34 L78.90,273.15 L78.94,271.94 L78.99,270.72 L79.05,269.47 L79.11,268.21 L79.17,266.94 L79.24,265.64 L79.32,264.34 L79.40,263.02 L79.48,261.69 L79.57,260.35 L79.67,259.00 L79.77,257.63 L79.87,256.27 L79.98,254.89 L80.09,253.51 L80.21,252.12 L80.33,250.73 L80.46,249.33 L80.59,247.94 L80.73,246.54 L80.87,245.14 L81.02,243.74 L81.17,242.35 L81.33,240.95 L81.49,239.56 L81.66,238.18 L81.83,236.80 L82.01,235.43 L82.19,234.06 L82.37,232.71 L82.57,231.36 L82.76,230.02 L82.96,228.70 L83.17,227.39 L83.38,226.09 L83.59,224.81 L83.81,223.54 L84.04,222.29 L84.27,221.05 L84.50,219.84 L84.74,218.64 L84.98,217.47 L85.23,216.31 L85.49,215.18 L85.74,214.07 L86.01,212.99 L86.28,211.93 L86.55,210.90 L86.83,209.90 L87.11,208.92 L87.40,207.97 L87.69,207.05 L87.99,206.15 L88.29,205.28 L88.60,204.43 L88.91,203.60 L89.22,202.78 L89.54,201.99 L89.87,201.21 L90.20,200.44 L90.54,199.68 L90.88,198.94 L91.22,198.20 L91.57,197.47 L91.93,196.74 L92.29,196.02 L92.65,195.30 L93.02,194.58 L93.40,193.86 L93.78,193.14 L94.16,192.41 L94.55,191.67 L94.94,190.93 L95.34,190.17 L95.75,189.41 L96.15,188.63 L96.57,187.84 L96.99,187.03 L97.41,186.20 L97.84,185.36 L98.27,184.49 L98.71,183.60 L99.15,182.68 L99.59,181.75 L100.05,180.80 L100.50,179.83 L100.96,178.85 L101.43,177.85 L101.90,176.85 L102.38,175.84 L102.86,174.83 L103.34,173.81 L103.83,172.80 L104.33,171.79 L104.83,170.78 L105.33,169.78 L105.84,168.79 L106.36,167.81 L106.88,166.84 L107.40,165.87 L107.93,164.92 L108.47,163.98 L109.00,163.05 L109.55,162.12 L110.10,161.20 L110.65,160.30 L111.21,159.40 L111.77,158.50 L112.34,157.62 L112.91,156.74 L113.49,155.87 L114.07,155.01 L114.66,154.15 L115.25,153.30 L115.85,152.45 L116.45,151.62 L117.05,150.78 L117.66,149.96 L118.28,149.13 L118.90,148.32 L119.53,147.50 L120.16,146.70 L120.79,145.89 L121.43,145.09 L122.08,144.30 L122.73,143.52 L123.38,142.75 L124.04,141.99 L124.71,141.26 L125.38,140.55 L126.05,139.87 L126.73,139.22 L127.41,138.61 L128.10,138.03 L128.79,137.49 L129.49,137.00 L130.20,136.53 L130.90,136.10 L131.62,135.69 L132.33,135.31 L133.06,134.95 L133.78,134.61 L134.51,134.29 L135.25,133.97 L135.99,133.67 L136.74,133.37 L137.49,133.08 L138.25,132.78 L139.01,132.48 L139.77,132.17 L140.54,131.86 L141.32,131.53 L142.10,131.20 L142.89,130.86 L143.68,130.52 L144.47,130.16 L145.27,129.81 L146.07,129.44 L146.88,129.08 L147.70,128.71 L148.52,128.34 L149.34,127.97 L150.17,127.60 L151.00,127.22 L151.84,126.85 L152.68,126.48 L153.53,126.11 L154.39,125.75 L155.24,125.38 L156.11,125.03 L156.97,124.68 L157.84,124.33 L158.72,123.99 L159.60,123.66 L160.49,123.33 L161.38,123.02 L162.28,122.71 L163.18,122.42 L164.08,122.13 L165.00,121.86 L165.91,121.60 L166.83,121.36 L167.76,121.12 L168.69,120.91 L169.62,120.71 L170.56,120.52 L171.51,120.35 L172.46,120.20 L173.41,120.07 L174.37,119.95 L175.33,119.86 L176.30,119.79 L177.27,119.74 L178.25,119.71 L179.24,119.70 L180.22,119.72 L181.22,119.76 L182.22,119.83 L183.22,119.92 L184.23,120.03 L185.24,120.16 L186.25,120.32 L187.28,120.49 L188.30,120.69 L189.33,120.91 L190.37,121.15 L191.41,121.41 L192.46,121.68 L193.51,121.98 L194.56,122.29 L195.63,122.63 L196.69,122.97 L197.76,123.34 L198.84,123.72 L199.92,124.12 L201.00,124.54 L202.09,124.97 L203.18,125.41 L204.28,125.87 L205.39,126.34 L206.50,126.83 L207.61,127.33 L208.73,127.84 L209.85,128.36 L210.98,128.89 L212.11,129.44 L213.25,129.99 L214.39,130.56 L215.54,131.14 L216.69,131.72 L217.85,132.32 L219.01,132.92 L220.18,133.53 L221.35,134.15 L222.53,134.77 L223.71,135.40 L224.90,136.04 L226.09,136.68 L227.28,137.33 L228.48,137.98 L229.69,138.64 L230.90,139.30 L232.11,139.97 L233.33,140.64 L234.56,141.31 L235.79,141.99 L237.02,142.68 L238.26,143.37 L239.51,144.07 L240.76,144.78 L242.01,145.50 L243.27,146.22 L244.53,146.95 L245.80,147.70 L247.07,148.45 L248.35,149.22 L249.63,149.99 L250.92,150.78 L252.21,151.58 L253.51,152.40 L254.81,153.23 L256.12,154.07 L257.43,154.92 L258.75,155.80 L260.07,156.68 L261.40,157.59 L262.73,158.51 L264.06,159.44 L265.40,160.40 L266.75,161.36 L268.10,162.34 L269.46,163.32 L270.82,164.31 L272.18,165.29 L273.55,166.28 L274.92,167.26 L276.30,168.22 L277.69,169.18 L279.08,170.12 L280.47,171.05 L281.87,171.96 L283.27,172.86 L284.68,173.74 L286.10,174.62 L287.51,175.48 L288.94,176.33 L290.36,177.18 L291.80,178.02 L293.23,178.85 L294.68,179.68 L296.12,180.50 L297.58,181.33 L299.03,182.15 L300.49,182.97 L301.96,183.79 L303.43,184.62 L304.91,185.45 L306.39,186.28 L307.87,187.12 L309.36,187.96 L310.86,188.80 L312.36,189.65 L313.86,190.51 L315.37,191.37 L316.89,192.23 L318.41,193.10 L319.93,193.97 L321.46,194.85 L323.00,195.74 L324.54,196.63 L326.08,197.52 L327.63,198.42 L329.18,199.32 L330.74,200.22 L332.30,201.12 L333.87,202.02 L335.44,202.90 L337.02,203.78 L338.60,204.65 L340.19,205.50 L341.78,206.33 L343.38,207.14 L344.98,207.94 L346.59,208.72 L348.20,209.50 L349.81,210.25 L351.44,211.00 L353.06,211.75 L354.69,212.49 L356.33,213.22 L357.97,213.95 L359.61,214.69 L361.26,215.43 L362.92,216.17 L364.58,216.92 L366.24,217.68 L367.91,218.45 L369.59,219.23 L371.26,220.02 L372.95,220.84 L374.64,221.67 L376.33,222.52 L378.03,223.40 L379.73,224.29 L381.44,225.22 L383.15,226.17 L384.87,227.16 L386.59,228.18 L388.32,229.23 L390.05,230.31 L391.79,231.44 L393.53,232.60 L395.28,233.80 L397.03,235.04 L398.79,236.30 L400.55,237.60 L402.31,238.92 L404.08,240.27 L405.86,241.64 L407.64,243.03 L409.42,244.44 L411.22,245.87 L413.01,247.31 L414.81,248.76 L416.61,250.21 L418.42,251.68 L420.24,253.15 L422.06,254.62 L423.88,256.10 L425.71,257.57 L427.54,259.03 L429.38,260.49 L431.23,261.94 L433.07,263.38 L434.93,264.80 L436.78,266.21 L438.65,267.60 L440.51,268.97 L442.39,270.32 L444.26,271.65 L446.15,272.94 L448.03,274.21 L449.92,275.44 L451.82,276.64 L453.72,277.81 L455.63,278.93 L457.54,280.02 L459.45,281.06 L461.37,282.05 L463.30,283.00 L463.30,283.00 L461.37,282.86 L459.45,282.68 L457.54,282.47 L455.63,282.23 L453.72,281.95 L451.82,281.63 L449.92,281.28 L448.03,280.90 L446.15,280.49 L444.26,280.05 L442.39,279.57 L440.51,279.06 L438.65,278.52 L436.78,277.96 L434.93,277.36 L433.07,276.73 L431.23,276.08 L429.38,275.40 L427.54,274.69 L425.71,273.95 L423.88,273.19 L422.06,272.40 L420.24,271.59 L418.42,270.75 L416.61,269.89 L414.81,269.01 L413.01,268.10 L411.22,267.17 L409.42,266.21 L407.64,265.24 L405.86,264.24 L404.08,263.23 L402.31,262.19 L400.55,261.13 L398.79,260.06 L397.03,258.96 L395.28,257.85 L393.53,256.72 L391.79,255.58 L390.05,254.42 L388.32,253.24 L386.59,252.04 L384.87,250.84 L383.15,249.61 L381.44,248.38 L379.73,247.13 L378.03,245.86 L376.33,244.59 L374.64,243.30 L372.95,242.00 L371.26,240.70 L369.59,239.39 L367.91,238.11 L366.24,236.85 L364.58,235.63 L362.92,234.45 L361.26,233.31 L359.61,232.21 L357.97,231.13 L356.33,230.08 L354.69,229.02 L353.06,227.95 L351.44,226.86 L349.81,225.73 L348.20,224.54 L346.59,223.31 L344.98,222.03 L343.38,220.71 L341.78,219.36 L340.19,217.98 L338.60,216.58 L337.02,215.17 L335.44,213.75 L333.87,212.32 L332.30,210.90 L330.74,209.49 L329.18,208.09 L327.63,206.71 L326.08,205.36 L324.54,204.04 L323.00,202.76 L321.46,201.52 L319.93,200.31 L318.41,199.14 L316.89,198.00 L315.37,196.89 L313.86,195.82 L312.36,194.78 L310.86,193.76 L309.36,192.78 L307.87,191.83 L306.39,190.91 L304.91,190.02 L303.43,189.16 L301.96,188.34 L300.49,187.55 L299.03,186.80 L297.58,186.08 L296.12,185.41 L294.68,184.76 L293.23,184.15 L291.80,183.58 L290.36,183.04 L288.94,182.52 L287.51,182.04 L286.10,181.58 L284.68,181.14 L283.27,180.74 L281.87,180.35 L280.47,179.99 L279.08,179.64 L277.69,179.32 L276.30,179.01 L274.92,178.72 L273.55,178.44 L272.18,178.18 L270.82,177.93 L269.46,177.69 L268.10,177.45 L266.75,177.23 L265.40,177.01 L264.06,176.79 L262.73,176.58 L261.40,176.37 L260.07,176.16 L258.75,175.95 L257.43,175.74 L256.12,175.52 L254.81,175.30 L253.51,175.08 L252.21,174.84 L250.92,174.61 L249.63,174.36 L248.35,174.12 L247.07,173.87 L245.80,173.61 L244.53,173.36 L243.27,173.10 L242.01,172.83 L240.76,172.57 L239.51,172.30 L238.26,172.03 L237.02,171.76 L235.79,171.49 L234.56,171.22 L233.33,170.95 L232.11,170.68 L230.90,170.41 L229.69,170.14 L228.48,169.87 L227.28,169.61 L226.09,169.34 L224.90,169.08 L223.71,168.82 L222.53,168.56 L221.35,168.31 L220.18,168.06 L219.01,167.81 L217.85,167.57 L216.69,167.33 L215.54,167.10 L214.39,166.87 L213.25,166.65 L212.11,166.44 L210.98,166.23 L209.85,166.03 L208.73,165.83 L207.61,165.65 L206.50,165.47 L205.39,165.30 L204.28,165.13 L203.18,164.98 L202.09,164.83 L201.00,164.70 L199.92,164.57 L198.84,164.44 L197.76,164.33 L196.69,164.23 L195.63,164.13 L194.56,164.04 L193.51,163.95 L192.46,163.88 L191.41,163.81 L190.37,163.75 L189.33,163.70 L188.30,163.65 L187.28,163.61 L186.25,163.58 L185.24,163.55 L184.23,163.53 L183.22,163.52 L182.22,163.52 L181.22,163.52 L180.22,163.52 L179.24,163.53 L178.25,163.55 L177.27,163.58 L176.30,163.61 L175.33,163.64 L174.37,163.69 L173.41,163.73 L172.46,163.79 L171.51,163.85 L170.56,163.91 L169.62,163.98 L168.69,164.05 L167.76,164.13 L166.83,164.21 L165.91,164.30 L165.00,164.40 L164.08,164.49 L163.18,164.60 L162.28,164.70 L161.38,164.81 L160.49,164.93 L159.60,165.05 L158.72,165.17 L157.84,165.30 L156.97,165.43 L156.11,165.56 L155.24,165.70 L154.39,165.85 L153.53,166.00 L152.68,166.15 L151.84,166.31 L151.00,166.47 L150.17,166.64 L149.34,166.81 L148.52,166.98 L147.70,167.16 L146.88,167.35 L146.07,167.54 L145.27,167.74 L144.47,167.94 L143.68,168.14 L142.89,168.35 L142.10,168.57 L141.32,168.79 L140.54,169.02 L139.77,169.25 L139.01,169.49 L138.25,169.73 L137.49,169.98 L136.74,170.23 L135.99,170.49 L135.25,170.76 L134.51,171.03 L133.78,171.31 L133.06,171.59 L132.33,171.88 L131.62,172.17 L130.90,172.47 L130.20,172.78 L129.49,173.09 L128.79,173.41 L128.10,173.74 L127.41,174.07 L126.73,174.41 L126.05,174.75 L125.38,175.11 L124.71,175.46 L124.04,175.83 L123.38,176.20 L122.73,176.58 L122.08,176.96 L121.43,177.35 L120.79,177.75 L120.16,178.16 L119.53,178.57 L118.90,178.99 L118.28,179.42 L117.66,179.85 L117.05,180.29 L116.45,180.74 L115.85,181.20 L115.25,181.66 L114.66,182.13 L114.07,182.61 L113.49,183.10 L112.91,183.59 L112.34,184.10 L111.77,184.60 L111.21,185.12 L110.65,185.65 L110.10,186.18 L109.55,186.72 L109.00,187.27 L108.47,187.83 L107.93,188.39 L107.40,188.97 L106.88,189.55 L106.36,190.14 L105.84,190.74 L105.33,191.35 L104.83,191.96 L104.33,192.59 L103.83,193.22 L103.34,193.86 L102.86,194.52 L102.38,195.18 L101.90,195.84 L101.43,196.52 L100.96,197.21 L100.50,197.90 L100.05,198.61 L99.59,199.33 L99.15,200.06 L98.71,200.80 L98.27,201.55 L97.84,202.31 L97.41,203.09 L96.99,203.88 L96.57,204.69 L96.15,205.51 L95.75,206.35 L95.34,207.21 L94.94,208.08 L94.55,208.97 L94.16,209.88 L93.78,210.80 L93.40,211.75 L93.02,212.71 L92.65,213.70 L92.29,214.70 L91.93,215.73 L91.57,216.78 L91.22,217.85 L90.88,218.95 L90.54,220.07 L90.20,221.21 L89.87,222.38 L89.54,223.57 L89.22,224.79 L88.91,226.02 L88.60,227.28 L88.29,228.56 L87.99,229.85 L87.69,231.16 L87.40,232.49 L87.11,233.82 L86.83,235.17 L86.55,236.53 L86.28,237.90 L86.01,239.27 L85.74,240.65 L85.49,242.04 L85.23,243.42 L84.98,244.81 L84.74,246.20 L84.50,247.58 L84.27,248.97 L84.04,250.34 L83.81,251.72 L83.59,253.08 L83.38,254.44 L83.17,255.78 L82.96,257.12 L82.76,258.44 L82.57,259.74 L82.37,261.03 L82.19,262.30 L82.01,263.55 L81.83,264.78 L81.66,265.99 L81.49,267.18 L81.33,268.34 L81.17,269.47 L81.02,270.58 L80.87,271.65 L80.73,272.70 L80.59,273.71 L80.46,274.69 L80.33,275.64 L80.21,276.54 L80.09,277.41 L79.98,278.24 L79.87,279.03 L79.77,279.77 L79.67,280.48 L79.57,281.13 L79.48,281.74 L79.40,282.30 L79.32,282.81 L79.24,283.27 L79.17,283.68 L79.11,284.03 L79.05,284.33 L78.99,284.57 L78.94,284.75 L78.90,284.87 L78.85,284.92 L78.82,284.92 L78.79,284.85 L78.76,284.72 L78.74,284.51 L78.72,284.24 L78.71,283.90 L78.70,283.49 L78.70,283.00Z" fill="#dc143c" fill-opacity="0.5"/>
<g stroke="#808080" stroke-width="1.1" fill="none">
<path d="M159.47,86.40V129.20"/><path stroke-width="1.1" d="M156.47,86.40h6M156.47,129.20h6"/>
<path d="M167.16,87.70V124.20"/><path stroke-width="1.1" d="M164.16,87.70h6M164.16,124.20h6"/>
<path d="M174.85,110.00V136.70"/><path stroke-width="1.1" d="M171.85,110.00h6M171.85,136.70h6"/>
<path d="M182.54,82.60V111.60"/><path stroke-width="1.1" d="M179.54,82.60h6M179.54,111.60h6"/>
<path d="M190.23,96.50V120.40"/><path stroke-width="1.1" d="M187.23,96.50h6M187.23,120.40h6"/>
<path d="M197.93,115.50V139.10"/><path stroke-width="1.1" d="M194.93,115.50h6M194.93,139.10h6"/>
<path d="M205.62,82.10V107.80"/><path stroke-width="1.1" d="M202.62,82.10h6M202.62,107.80h6"/>
<path d="M213.31,102.70V126.10"/><path stroke-width="1.1" d="M210.31,102.70h6M210.31,126.10h6"/>
<path d="M221.00,107.70V130.30"/><path stroke-width="1.1" d="M218.00,107.70h6M218.00,130.30h6"/>
<path d="M228.69,83.40V107.80"/><path stroke-width="1.1" d="M225.69,83.40h6M225.69,107.80h6"/>
<path d="M236.39,108.70V129.70"/><path stroke-width="1.1" d="M233.39,108.70h6M233.39,129.70h6"/>
<path d="M244.08,90.40V113.60"/><path stroke-width="1.1" d="M241.08,90.40h6M241.08,113.60h6"/>
<path d="M251.77,106.50V127.40"/><path stroke-width="1.1" d="M248.77,106.50h6M248.77,127.40h6"/>
<path d="M259.46,114.50V135.20"/><path stroke-width="1.1" d="M256.46,114.50h6M256.46,135.20h6"/>
<path d="M267.15,118.00V139.00"/><path stroke-width="1.1" d="M264.15,118.00h6M264.15,139.00h6"/>
<path d="M274.85,111.40V131.50"/><path stroke-width="1.1" d="M271.85,111.40h6M271.85,131.50h6"/>
<path d="M282.54,119.70V139.90"/><path stroke-width="1.1" d="M279.54,119.70h6M279.54,139.90h6"/>
<path d="M290.23,114.70V134.70"/><path stroke-width="1.1" d="M287.23,114.70h6M287.23,134.70h6"/>
<path d="M297.92,139.00V157.40"/><path stroke-width="1.1" d="M294.92,139.00h6M294.92,157.40h6"/>
<path d="M305.61,133.30V152.40"/><path stroke-width="1.1" d="M302.61,133.30h6M302.61,152.40h6"/>
<path d="M313.31,140.80V159.20"/><path stroke-width="1.1" d="M310.31,140.80h6M310.31,159.20h6"/>
<path d="M321.00,149.60V165.50"/><path stroke-width="1.1" d="M318.00,149.60h6M318.00,165.50h6"/>
<path d="M328.69,151.50V168.80"/><path stroke-width="1.1" d="M325.69,151.50h6M325.69,168.80h6"/>
<path d="M336.38,168.10V183.50"/><path stroke-width="1.1" d="M333.38,168.10h6M333.38,183.50h6"/>
<path d="M344.07,175.20V189.70"/><path stroke-width="1.1" d="M341.07,175.20h6M341.07,189.70h6"/>
<path d="M351.77,175.70V190.30"/><path stroke-width="1.1" d="M348.77,175.70h6M348.77,190.30h6"/>
<path d="M359.46,181.40V195.30"/><path stroke-width="1.1" d="M356.46,181.40h6M356.46,195.30h6"/>
<path d="M367.15,197.30V210.40"/><path stroke-width="1.1" d="M364.15,197.30h6M364.15,210.40h6"/>
<path d="M374.84,199.00V210.90"/><path stroke-width="1.1" d="M371.84,199.00h6M371.84,210.90h6"/>
<path d="M382.53,207.90V219.20"/><path stroke-width="1.1" d="M379.53,207.90h6M379.53,219.20h6"/>
<path d="M390.23,209.10V220.50"/><path stroke-width="1.1" d="M387.23,209.10h6M387.23,220.50h6"/>
<path d="M397.92,225.90V235.70"/><path stroke-width="1.1" d="M394.92,225.90h6M394.92,235.70h6"/>
<path d="M405.61,229.20V239.00"/><path stroke-width="1.1" d="M402.61,229.20h6M402.61,239.00h6"/>
<path d="M413.30,228.90V239.00"/><path stroke-width="1.1" d="M410.30,228.90h6M410.30,239.00h6"/>
<path d="M420.99,245.30V253.50"/><path stroke-width="1.1" d="M417.99,245.30h6M417.99,253.50h6"/>
<path d="M428.69,249.80V256.00"/><path stroke-width="1.1" d="M425.69,249.80h6M425.69,256.00h6"/>
<path d="M436.38,260.40V266.80"/><path stroke-width="1.1" d="M433.38,260.40h6M433.38,266.80h6"/>
<path d="M444.07,263.10V268.30"/><path stroke-width="1.1" d="M441.07,263.10h6M441.07,268.30h6"/>
<path d="M451.76,272.00V276.00"/><path stroke-width="1.1" d="M448.76,272.00h6M448.76,276.00h6"/>
<path d="M459.45,276.50V279.50"/><path stroke-width="1.1" d="M456.45,276.50h6M456.45,279.50h6"/>
</g>
<path d="M78.70,283.00 L78.70,283.07 L78.71,283.10 L78.72,283.08 L78.74,283.02 L78.76,282.91 L78.79,282.77 L78.82,282.58 L78.85,282.35 L78.90,282.08 L78.94,281.78 L78.99,281.43 L79.05,281.05 L79.11,280.63 L79.17,280.18 L79.24,279.69 L79.32,279.16 L79.40,278.60 L79.48,278.01 L79.57,277.39 L79.67,276.73 L79.77,276.04 L79.87,275.33 L79.98,274.58 L80.09,273.81 L80.21,273.00 L80.33,272.17 L80.46,271.31 L80.59,270.43 L80.73,269.52 L80.87,268.59 L81.02,267.64 L81.17,266.66 L81.33,265.66 L81.49,264.63 L81.66,263.59 L81.83,262.53 L82.01,261.45 L82.19,260.35 L82.37,259.23 L82.57,258.09 L82.76,256.94 L82.96,255.77 L83.17,254.59 L83.38,253.39 L83.59,252.18 L83.81,250.96 L84.04,249.73 L84.27,248.48 L84.50,247.23 L84.74,245.96 L84.98,244.69 L85.23,243.41 L85.49,242.12 L85.74,240.82 L86.01,239.52 L86.28,238.21 L86.55,236.90 L86.83,235.58 L87.11,234.26 L87.40,232.94 L87.69,231.61 L87.99,230.29 L88.29,228.96 L88.60,227.64 L88.91,226.32 L89.22,225.00 L89.54,223.68 L89.87,222.36 L90.20,221.05 L90.54,219.75 L90.88,218.44 L91.22,217.14 L91.57,215.85 L91.93,214.56 L92.29,213.27 L92.65,211.99 L93.02,210.71 L93.40,209.43 L93.78,208.16 L94.16,206.89 L94.55,205.62 L94.94,204.36 L95.34,203.11 L95.75,201.85 L96.15,200.61 L96.57,199.36 L96.99,198.12 L97.41,196.88 L97.84,195.65 L98.27,194.42 L98.71,193.20 L99.15,191.97 L99.59,190.76 L100.05,189.54 L100.50,188.34 L100.96,187.13 L101.43,185.93 L101.90,184.73 L102.38,183.54 L102.86,182.35 L103.34,181.16 L103.83,179.98 L104.33,178.80 L104.83,177.63 L105.33,176.46 L105.84,175.30 L106.36,174.14 L106.88,172.98 L107.40,171.83 L107.93,170.68 L108.47,169.53 L109.00,168.39 L109.55,167.25 L110.10,166.12 L110.65,164.99 L111.21,163.87 L111.77,162.75 L112.34,161.63 L112.91,160.52 L113.49,159.41 L114.07,158.31 L114.66,157.21 L115.25,156.11 L115.85,155.02 L116.45,153.93 L117.05,152.85 L117.66,151.77 L118.28,150.69 L118.90,149.62 L119.53,148.56 L120.16,147.50 L120.79,146.44 L121.43,145.39 L122.08,144.34 L122.73,143.30 L123.38,142.27 L124.04,141.24 L124.71,140.22 L125.38,139.21 L126.05,138.20 L126.73,137.19 L127.41,136.20 L128.10,135.21 L128.79,134.23 L129.49,133.26 L130.20,132.29 L130.90,131.33 L131.62,130.38 L132.33,129.44 L133.06,128.50 L133.78,127.58 L134.51,126.66 L135.25,125.75 L135.99,124.85 L136.74,123.96 L137.49,123.08 L138.25,122.21 L139.01,121.35 L139.77,120.49 L140.54,119.65 L141.32,118.82 L142.10,118.00 L142.89,117.19 L143.68,116.39 L144.47,115.60 L145.27,114.82 L146.07,114.05 L146.88,113.30 L147.70,112.56 L148.52,111.82 L149.34,111.10 L150.17,110.40 L151.00,109.70 L151.84,109.02 L152.68,108.35 L153.53,107.69 L154.39,107.05 L155.24,106.42 L156.11,105.80 L156.97,105.20 L157.84,104.61 L158.72,104.03 L159.60,103.47 L160.49,102.92 L161.38,102.39 L162.28,101.87 L163.18,101.37 L164.08,100.88 L165.00,100.41 L165.91,99.95 L166.83,99.51 L167.76,99.08 L168.69,98.67 L169.62,98.27 L170.56,97.89 L171.51,97.52 L172.46,97.17 L173.41,96.83 L174.37,96.51 L175.33,96.20 L176.30,95.91 L177.27,95.63 L178.25,95.37 L179.24,95.12 L180.22,94.89 L181.22,94.67 L182.22,94.47 L183.22,94.28 L184.23,94.11 L185.24,93.95 L186.25,93.81 L187.28,93.68 L188.30,93.57 L189.33,93.47 L190.37,93.39 L191.41,93.32 L192.46,93.27 L193.51,93.23 L194.56,93.21 L195.63,93.20 L196.69,93.21 L197.76,93.23 L198.84,93.26 L199.92,93.32 L201.00,93.38 L202.09,93.46 L203.18,93.56 L204.28,93.67 L205.39,93.80 L206.50,93.94 L207.61,94.09 L208.73,94.26 L209.85,94.45 L210.98,94.65 L212.11,94.86 L213.25,95.09 L214.39,95.34 L215.54,95.60 L216.69,95.87 L217.85,96.16 L219.01,96.46 L220.18,96.78 L221.35,97.12 L222.53,97.46 L223.71,97.83 L224.90,98.20 L226.09,98.60 L227.28,99.00 L228.48,99.43 L229.69,99.86 L230.90,100.31 L232.11,100.78 L233.33,101.26 L234.56,101.75 L235.79,102.26 L237.02,102.79 L238.26,103.33 L239.51,103.88 L240.76,104.45 L242.01,105.03 L243.27,105.63 L244.53,106.24 L245.80,106.87 L247.07,107.51 L248.35,108.17 L249.63,108.84 L250.92,109.53 L252.21,110.23 L253.51,110.94 L254.81,111.67 L256.12,112.42 L257.43,113.17 L258.75,113.95 L260.07,114.74 L261.40,115.54 L262.73,116.36 L264.06,117.19 L265.40,118.03 L266.75,118.89 L268.10,119.77 L269.46,120.66 L270.82,121.57 L272.18,122.49 L273.55,123.42 L274.92,124.37 L276.30,125.33 L277.69,126.31 L279.08,127.31 L280.47,128.31 L281.87,129.34 L283.27,130.38 L284.68,131.43 L286.10,132.50 L287.51,133.58 L288.94,134.67 L290.36,135.79 L291.80,136.91 L293.23,138.05 L294.68,139.21 L296.12,140.38 L297.58,141.57 L299.03,142.77 L300.49,143.98 L301.96,145.21 L303.43,146.46 L304.91,147.72 L306.39,149.00 L307.87,150.29 L309.36,151.59 L310.86,152.91 L312.36,154.24 L313.86,155.59 L315.37,156.95 L316.89,158.33 L318.41,159.72 L319.93,161.12 L321.46,162.54 L323.00,163.97 L324.54,165.41 L326.08,166.87 L327.63,168.34 L329.18,169.82 L330.74,171.32 L332.30,172.83 L333.87,174.35 L335.44,175.88 L337.02,177.42 L338.60,178.98 L340.19,180.55 L341.78,182.13 L343.38,183.72 L344.98,185.33 L346.59,186.94 L348.20,188.57 L349.81,190.21 L351.44,191.86 L353.06,193.52 L354.69,195.19 L356.33,196.86 L357.97,198.54 L359.61,200.22 L361.26,201.91 L362.92,203.59 L364.58,205.27 L366.24,206.95 L367.91,208.63 L369.59,210.29 L371.26,211.95 L372.95,213.59 L374.64,215.22 L376.33,216.84 L378.03,218.44 L379.73,220.03 L381.44,221.61 L383.15,223.18 L384.87,224.74 L386.59,226.29 L388.32,227.84 L390.05,229.37 L391.79,230.91 L393.53,232.43 L395.28,233.96 L397.03,235.48 L398.79,237.00 L400.55,238.52 L402.31,240.04 L404.08,241.56 L405.86,243.07 L407.64,244.57 L409.42,246.08 L411.22,247.57 L413.01,249.06 L414.81,250.54 L416.61,252.01 L418.42,253.47 L420.24,254.92 L422.06,256.35 L423.88,257.78 L425.71,259.19 L427.54,260.58 L429.38,261.96 L431.23,263.32 L433.07,264.67 L434.93,265.99 L436.78,267.30 L438.65,268.59 L440.51,269.85 L442.39,271.09 L444.26,272.31 L446.15,273.50 L448.03,274.67 L449.92,275.81 L451.82,276.93 L453.72,278.02 L455.63,279.08 L457.54,280.10 L459.45,281.10 L461.37,282.07 L463.30,283.00" fill="none" stroke="#008000" stroke-width="1.5"/>
<path d="M78.70,283.00 L78.70,283.00 L78.71,282.94 L78.72,282.83 L78.74,282.66 L78.76,282.45 L78.79,282.18 L78.82,281.87 L78.85,281.51 L78.90,281.10 L78.94,280.65 L78.99,280.15 L79.05,279.61 L79.11,279.02 L79.17,278.40 L79.24,277.73 L79.32,277.03 L79.40,276.28 L79.48,275.50 L79.57,274.68 L79.67,273.83 L79.77,272.95 L79.87,272.03 L79.98,271.08 L80.09,270.10 L80.21,269.09 L80.33,268.05 L80.46,266.99 L80.59,265.90 L80.73,264.78 L80.87,263.64 L81.02,262.48 L81.17,261.29 L81.33,260.08 L81.49,258.86 L81.66,257.61 L81.83,256.35 L82.01,255.07 L82.19,253.78 L82.37,252.47 L82.57,251.15 L82.76,249.81 L82.96,248.47 L83.17,247.12 L83.38,245.76 L83.59,244.39 L83.81,243.02 L84.04,241.65 L84.27,240.28 L84.50,238.91 L84.74,237.54 L84.98,236.18 L85.23,234.81 L85.49,233.46 L85.74,232.12 L86.01,230.78 L86.28,229.46 L86.55,228.15 L86.83,226.85 L87.11,225.57 L87.40,224.31 L87.69,223.07 L87.99,221.85 L88.29,220.65 L88.60,219.46 L88.91,218.30 L89.22,217.16 L89.54,216.04 L89.87,214.93 L90.20,213.85 L90.54,212.77 L90.88,211.72 L91.22,210.68 L91.57,209.65 L91.93,208.64 L92.29,207.64 L92.65,206.66 L93.02,205.68 L93.40,204.72 L93.78,203.77 L94.16,202.83 L94.55,201.90 L94.94,200.97 L95.34,200.06 L95.75,199.15 L96.15,198.25 L96.57,197.36 L96.99,196.47 L97.41,195.59 L97.84,194.71 L98.27,193.84 L98.71,192.97 L99.15,192.10 L99.59,191.23 L100.05,190.37 L100.50,189.50 L100.96,188.64 L101.43,187.77 L101.90,186.91 L102.38,186.04 L102.86,185.17 L103.34,184.29 L103.83,183.42 L104.33,182.54 L104.83,181.65 L105.33,180.77 L105.84,179.88 L106.36,178.99 L106.88,178.09 L107.40,177.20 L107.93,176.30 L108.47,175.40 L109.00,174.50 L109.55,173.60 L110.10,172.70 L110.65,171.79 L111.21,170.89 L111.77,169.98 L112.34,169.08 L112.91,168.17 L113.49,167.26 L114.07,166.35 L114.66,165.45 L115.25,164.54 L115.85,163.63 L116.45,162.73 L117.05,161.82 L117.66,160.92 L118.28,160.02 L118.90,159.11 L119.53,158.21 L120.16,157.31 L120.79,156.42 L121.43,155.52 L122.08,154.63 L122.73,153.74 L123.38,152.85 L124.04,151.96 L124.71,151.08 L125.38,150.20 L126.05,149.32 L126.73,148.45 L127.41,147.58 L128.10,146.71 L128.79,145.85 L129.49,144.99 L130.20,144.13 L130.90,143.28 L131.62,142.44 L132.33,141.59 L133.06,140.76 L133.78,139.92 L134.51,139.10 L135.25,138.28 L135.99,137.46 L136.74,136.65 L137.49,135.84 L138.25,135.04 L139.01,134.25 L139.77,133.46 L140.54,132.68 L141.32,131.91 L142.10,131.14 L142.89,130.38 L143.68,129.63 L144.47,128.88 L145.27,128.14 L146.07,127.41 L146.88,126.68 L147.70,125.97 L148.52,125.26 L149.34,124.56 L150.17,123.87 L151.00,123.19 L151.84,122.51 L152.68,121.85 L153.53,121.19 L154.39,120.55 L155.24,119.91 L156.11,119.28 L156.97,118.67 L157.84,118.06 L158.72,117.46 L159.60,116.87 L160.49,116.30 L161.38,115.73 L162.28,115.18 L163.18,114.64 L164.08,114.10 L165.00,113.58 L165.91,113.07 L166.83,112.58 L167.76,112.09 L168.69,111.62 L169.62,111.16 L170.56,110.71 L171.51,110.28 L172.46,109.86 L173.41,109.45 L174.37,109.05 L175.33,108.67 L176.30,108.31 L177.27,107.95 L178.25,107.61 L179.24,107.29 L180.22,106.98 L181.22,106.68 L182.22,106.40 L183.22,106.14 L184.23,105.89 L185.24,105.65 L186.25,105.43 L187.28,105.23 L188.30,105.04 L189.33,104.87 L190.37,104.72 L191.41,104.58 L192.46,104.46 L193.51,104.35 L194.56,104.27 L195.63,104.20 L196.69,104.14 L197.76,104.11 L198.84,104.09 L199.92,104.09 L201.00,104.11 L202.09,104.15 L203.18,104.21 L204.28,104.29 L205.39,104.38 L206.50,104.49 L207.61,104.63 L208.73,104.78 L209.85,104.95 L210.98,105.15 L212.11,105.36 L213.25,105.59 L214.39,105.85 L215.54,106.12 L216.69,106.42 L217.85,106.73 L219.01,107.07 L220.18,107.43 L221.35,107.81 L222.53,108.22 L223.71,108.64 L224.90,109.09 L226.09,109.56 L227.28,110.05 L228.48,110.56 L229.69,111.10 L230.90,111.66 L232.11,112.25 L233.33,112.86 L234.56,113.49 L235.79,114.14 L237.02,114.82 L238.26,115.53 L239.51,116.26 L240.76,117.01 L242.01,117.79 L243.27,118.59 L244.53,119.42 L245.80,120.27 L247.07,121.15 L248.35,122.06 L249.63,122.99 L250.92,123.94 L252.21,124.92 L253.51,125.92 L254.81,126.95 L256.12,128.00 L257.43,129.07 L258.75,130.16 L260.07,131.28 L261.40,132.42 L262.73,133.58 L264.06,134.76 L265.40,135.96 L266.75,137.18 L268.10,138.42 L269.46,139.68 L270.82,140.96 L272.18,142.26 L273.55,143.57 L274.92,144.91 L276.30,146.26 L277.69,147.63 L279.08,149.01 L280.47,150.41 L281.87,151.83 L283.27,153.26 L284.68,154.71 L286.10,156.17 L287.51,157.65 L288.94,159.14 L290.36,160.64 L291.80,162.16 L293.23,163.69 L294.68,165.24 L296.12,166.79 L297.58,168.36 L299.03,169.94 L300.49,171.53 L301.96,173.13 L303.43,174.74 L304.91,176.36 L306.39,177.99 L307.87,179.63 L309.36,181.27 L310.86,182.93 L312.36,184.59 L313.86,186.26 L315.37,187.94 L316.89,189.63 L318.41,191.32 L319.93,193.02 L321.46,194.72 L323.00,196.43 L324.54,198.14 L326.08,199.86 L327.63,201.58 L329.18,203.31 L330.74,205.04 L332.30,206.77 L333.87,208.50 L335.44,210.24 L337.02,211.98 L338.60,213.72 L340.19,215.46 L341.78,217.20 L343.38,218.94 L344.98,220.69 L346.59,222.43 L348.20,224.17 L349.81,225.91 L351.44,227.65 L353.06,229.38 L354.69,231.11 L356.33,232.84 L357.97,234.55 L359.61,236.26 L361.26,237.96 L362.92,239.65 L364.58,241.32 L366.24,242.97 L367.91,244.62 L369.59,246.24 L371.26,247.84 L372.95,249.42 L374.64,250.99 L376.33,252.52 L378.03,254.03 L379.73,255.52 L381.44,256.98 L383.15,258.40 L384.87,259.80 L386.59,261.16 L388.32,262.49 L390.05,263.78 L391.79,265.04 L393.53,266.26 L395.28,267.44 L397.03,268.57 L398.79,269.67 L400.55,270.72 L402.31,271.72 L404.08,272.68 L405.86,273.58 L407.64,274.44 L409.42,275.25 L411.22,276.01 L413.01,276.72 L414.81,277.38 L416.61,278.01 L418.42,278.58 L420.24,279.12 L422.06,279.62 L423.88,280.07 L425.71,280.49 L427.54,280.88 L429.38,281.23 L431.23,281.54 L433.07,281.82 L434.93,282.07 L436.78,282.29 L438.65,282.49 L440.51,282.65 L442.39,282.79 L444.26,282.90 L446.15,283.00 L448.03,283.07 L449.92,283.12 L451.82,283.15 L453.72,283.16 L455.63,283.15 L457.54,283.14 L459.45,283.10 L461.37,283.06 L463.30,283.00" fill="none" stroke="#bf00bf" stroke-width="1.7"/>
<path d="M78.70,283.00 L78.70,282.86 L78.71,282.67 L78.72,282.43 L78.74,282.15 L78.76,281.82 L78.79,281.46 L78.82,281.05 L78.85,280.60 L78.90,280.11 L78.94,279.59 L78.99,279.02 L79.05,278.42 L79.11,277.79 L79.17,277.11 L79.24,276.41 L79.32,275.67 L79.40,274.90 L79.48,274.10 L79.57,273.27 L79.67,272.41 L79.77,271.52 L79.87,270.61 L79.98,269.67 L80.09,268.70 L80.21,267.72 L80.33,266.70 L80.46,265.67 L80.59,264.61 L80.73,263.54 L80.87,262.44 L81.02,261.33 L81.17,260.20 L81.33,259.05 L81.49,257.89 L81.66,256.71 L81.83,255.52 L82.01,254.32 L82.19,253.10 L82.37,251.88 L82.57,250.64 L82.76,249.40 L82.96,248.15 L83.17,246.89 L83.38,245.63 L83.59,244.36 L83.81,243.09 L84.04,241.81 L84.27,240.54 L84.50,239.26 L84.74,237.98 L84.98,236.71 L85.23,235.43 L85.49,234.16 L85.74,232.90 L86.01,231.63 L86.28,230.38 L86.55,229.13 L86.83,227.89 L87.11,226.66 L87.40,225.43 L87.69,224.22 L87.99,223.02 L88.29,221.83 L88.60,220.66 L88.91,219.49 L89.22,218.34 L89.54,217.19 L89.87,216.06 L90.20,214.94 L90.54,213.82 L90.88,212.72 L91.22,211.62 L91.57,210.54 L91.93,209.46 L92.29,208.39 L92.65,207.33 L93.02,206.28 L93.40,205.23 L93.78,204.19 L94.16,203.16 L94.55,202.13 L94.94,201.11 L95.34,200.10 L95.75,199.09 L96.15,198.09 L96.57,197.09 L96.99,196.10 L97.41,195.11 L97.84,194.12 L98.27,193.14 L98.71,192.16 L99.15,191.19 L99.59,190.22 L100.05,189.25 L100.50,188.28 L100.96,187.32 L101.43,186.35 L101.90,185.39 L102.38,184.43 L102.86,183.47 L103.34,182.51 L103.83,181.55 L104.33,180.59 L104.83,179.64 L105.33,178.68 L105.84,177.73 L106.36,176.77 L106.88,175.82 L107.40,174.87 L107.93,173.92 L108.47,172.98 L109.00,172.04 L109.55,171.10 L110.10,170.16 L110.65,169.22 L111.21,168.29 L111.77,167.36 L112.34,166.43 L112.91,165.51 L113.49,164.59 L114.07,163.67 L114.66,162.75 L115.25,161.84 L115.85,160.94 L116.45,160.03 L117.05,159.14 L117.66,158.24 L118.28,157.35 L118.90,156.47 L119.53,155.59 L120.16,154.71 L120.79,153.84 L121.43,152.97 L122.08,152.11 L122.73,151.26 L123.38,150.41 L124.04,149.57 L124.71,148.73 L125.38,147.89 L126.05,147.07 L126.73,146.25 L127.41,145.43 L128.10,144.63 L128.79,143.83 L129.49,143.03 L130.20,142.24 L130.90,141.46 L131.62,140.69 L132.33,139.93 L133.06,139.17 L133.78,138.42 L134.51,137.67 L135.25,136.94 L135.99,136.21 L136.74,135.49 L137.49,134.78 L138.25,134.08 L139.01,133.38 L139.77,132.70 L140.54,132.02 L141.32,131.35 L142.10,130.69 L142.89,130.04 L143.68,129.40 L144.47,128.77 L145.27,128.15 L146.07,127.54 L146.88,126.94 L147.70,126.35 L148.52,125.76 L149.34,125.19 L150.17,124.63 L151.00,124.08 L151.84,123.54 L152.68,123.01 L153.53,122.50 L154.39,121.99 L155.24,121.49 L156.11,121.01 L156.97,120.53 L157.84,120.07 L158.72,119.62 L159.60,119.17 L160.49,118.74 L161.38,118.32 L162.28,117.91 L163.18,117.52 L164.08,117.13 L165.00,116.75 L165.91,116.39 L166.83,116.04 L167.76,115.69 L168.69,115.36 L169.62,115.04 L170.56,114.73 L171.51,114.44 L172.46,114.15 L173.41,113.88 L174.37,113.61 L175.33,113.36 L176.30,113.12 L177.27,112.89 L178.25,112.67 L179.24,112.46 L180.22,112.27 L181.22,112.08 L182.22,111.91 L183.22,111.75 L184.23,111.60 L185.24,111.46 L186.25,111.34 L187.28,111.22 L188.30,111.12 L189.33,111.03 L190.37,110.95 L191.41,110.88 L192.46,110.83 L193.51,110.78 L194.56,110.75 L195.63,110.73 L196.69,110.72 L197.76,110.72 L198.84,110.74 L199.92,110.77 L201.00,110.81 L202.09,110.86 L203.18,110.92 L204.28,110.99 L205.39,111.08 L206.50,111.18 L207.61,111.29 L208.73,111.41 L209.85,111.55 L210.98,111.69 L212.11,111.85 L213.25,112.03 L214.39,112.21 L215.54,112.41 L216.69,112.61 L217.85,112.83 L219.01,113.07 L220.18,113.31 L221.35,113.57 L222.53,113.84 L223.71,114.12 L224.90,114.42 L226.09,114.72 L227.28,115.04 L228.48,115.38 L229.69,115.72 L230.90,116.08 L232.11,116.45 L233.33,116.83 L234.56,117.23 L235.79,117.63 L237.02,118.05 L238.26,118.49 L239.51,118.93 L240.76,119.39 L242.01,119.86 L243.27,120.35 L244.53,120.84 L245.80,121.35 L247.07,121.87 L248.35,122.41 L249.63,122.96 L250.92,123.52 L252.21,124.09 L253.51,124.68 L254.81,125.28 L256.12,125.89 L257.43,126.51 L258.75,127.15 L260.07,127.80 L261.40,128.46 L262.73,129.14 L264.06,129.83 L265.40,130.53 L266.75,131.24 L268.10,131.97 L269.46,132.70 L270.82,133.45 L272.18,134.22 L273.55,134.99 L274.92,135.78 L276.30,136.58 L277.69,137.39 L279.08,138.22 L280.47,139.05 L281.87,139.90 L283.27,140.76 L284.68,141.64 L286.10,142.53 L287.51,143.42 L288.94,144.33 L290.36,145.26 L291.80,146.19 L293.23,147.14 L294.68,148.10 L296.12,149.07 L297.58,150.05 L299.03,151.05 L300.49,152.06 L301.96,153.08 L303.43,154.11 L304.91,155.15 L306.39,156.21 L307.87,157.27 L309.36,158.35 L310.86,159.44 L312.36,160.55 L313.86,161.66 L315.37,162.79 L316.89,163.93 L318.41,165.08 L319.93,166.24 L321.46,167.41 L323.00,168.60 L324.54,169.80 L326.08,171.00 L327.63,172.23 L329.18,173.46 L330.74,174.70 L332.30,175.96 L333.87,177.22 L335.44,178.50 L337.02,179.79 L338.60,181.09 L340.19,182.41 L341.78,183.73 L343.38,185.07 L344.98,186.41 L346.59,187.77 L348.20,189.14 L349.81,190.52 L351.44,191.91 L353.06,193.32 L354.69,194.73 L356.33,196.16 L357.97,197.59 L359.61,199.04 L361.26,200.49 L362.92,201.95 L364.58,203.42 L366.24,204.90 L367.91,206.38 L369.59,207.87 L371.26,209.37 L372.95,210.87 L374.64,212.38 L376.33,213.89 L378.03,215.41 L379.73,216.93 L381.44,218.45 L383.15,219.98 L384.87,221.51 L386.59,223.04 L388.32,224.57 L390.05,226.10 L391.79,227.64 L393.53,229.17 L395.28,230.70 L397.03,232.24 L398.79,233.77 L400.55,235.30 L402.31,236.83 L404.08,238.35 L405.86,239.88 L407.64,241.39 L409.42,242.91 L411.22,244.42 L413.01,245.92 L414.81,247.42 L416.61,248.92 L418.42,250.40 L420.24,251.89 L422.06,253.36 L423.88,254.82 L425.71,256.28 L427.54,257.73 L429.38,259.17 L431.23,260.60 L433.07,262.02 L434.93,263.43 L436.78,264.83 L438.65,266.22 L440.51,267.59 L442.39,268.95 L444.26,270.31 L446.15,271.64 L448.03,272.97 L449.92,274.27 L451.82,275.57 L453.72,276.85 L455.63,278.11 L457.54,279.36 L459.45,280.59 L461.37,281.80 L463.30,283.00" fill="none" stroke="#0000ff" stroke-width="2.3"/>
<path d="M78.70,283.00 L78.70,282.51 L78.71,281.96 L78.72,281.36 L78.74,280.71 L78.76,280.02 L78.79,279.28 L78.82,278.49 L78.85,277.66 L78.90,276.79 L78.94,275.88 L78.99,274.93 L79.05,273.95 L79.11,272.93 L79.17,271.88 L79.24,270.79 L79.32,269.68 L79.40,268.54 L79.48,267.37 L79.57,266.18 L79.67,264.97 L79.77,263.74 L79.87,262.48 L79.98,261.21 L80.09,259.92 L80.21,258.62 L80.33,257.30 L80.46,255.98 L80.59,254.64 L80.73,253.30 L80.87,251.95 L81.02,250.59 L81.17,249.24 L81.33,247.88 L81.49,246.52 L81.66,245.17 L81.83,243.82 L82.01,242.47 L82.19,241.14 L82.37,239.81 L82.57,238.48 L82.76,237.17 L82.96,235.86 L83.17,234.57 L83.38,233.28 L83.59,232.00 L83.81,230.74 L84.04,229.48 L84.27,228.24 L84.50,227.00 L84.74,225.78 L84.98,224.57 L85.23,223.37 L85.49,222.19 L85.74,221.02 L86.01,219.86 L86.28,218.71 L86.55,217.58 L86.83,216.47 L87.11,215.37 L87.40,214.28 L87.69,213.21 L87.99,212.16 L88.29,211.12 L88.60,210.10 L88.91,209.10 L89.22,208.11 L89.54,207.14 L89.87,206.19 L90.20,205.25 L90.54,204.32 L90.88,203.41 L91.22,202.52 L91.57,201.64 L91.93,200.77 L92.29,199.92 L92.65,199.08 L93.02,198.25 L93.40,197.44 L93.78,196.63 L94.16,195.84 L94.55,195.07 L94.94,194.30 L95.34,193.54 L95.75,192.80 L96.15,192.06 L96.57,191.33 L96.99,190.62 L97.41,189.91 L97.84,189.21 L98.27,188.52 L98.71,187.84 L99.15,187.16 L99.59,186.50 L100.05,185.84 L100.50,185.18 L100.96,184.54 L101.43,183.90 L101.90,183.26 L102.38,182.63 L102.86,182.01 L103.34,181.39 L103.83,180.78 L104.33,180.17 L104.83,179.56 L105.33,178.96 L105.84,178.36 L106.36,177.76 L106.88,177.16 L107.40,176.57 L107.93,175.98 L108.47,175.39 L109.00,174.80 L109.55,174.21 L110.10,173.63 L110.65,173.04 L111.21,172.45 L111.77,171.86 L112.34,171.27 L112.91,170.68 L113.49,170.09 L114.07,169.50 L114.66,168.90 L115.25,168.30 L115.85,167.70 L116.45,167.09 L117.05,166.49 L117.66,165.88 L118.28,165.28 L118.90,164.67 L119.53,164.06 L120.16,163.46 L120.79,162.85 L121.43,162.25 L122.08,161.65 L122.73,161.06 L123.38,160.47 L124.04,159.88 L124.71,159.30 L125.38,158.72 L126.05,158.15 L126.73,157.59 L127.41,157.03 L128.10,156.49 L128.79,155.95 L129.49,155.42 L130.20,154.89 L130.90,154.38 L131.62,153.88 L132.33,153.39 L133.06,152.91 L133.78,152.44 L134.51,151.97 L135.25,151.52 L135.99,151.08 L136.74,150.65 L137.49,150.22 L138.25,149.81 L139.01,149.41 L139.77,149.01 L140.54,148.63 L141.32,148.25 L142.10,147.89 L142.89,147.54 L143.68,147.19 L144.47,146.85 L145.27,146.53 L146.07,146.21 L146.88,145.90 L147.70,145.61 L148.52,145.32 L149.34,145.04 L150.17,144.77 L151.00,144.51 L151.84,144.26 L152.68,144.02 L153.53,143.79 L154.39,143.57 L155.24,143.36 L156.11,143.16 L156.97,142.96 L157.84,142.78 L158.72,142.61 L159.60,142.44 L160.49,142.29 L161.38,142.14 L162.28,142.00 L163.18,141.88 L164.08,141.76 L165.00,141.65 L165.91,141.55 L166.83,141.46 L167.76,141.38 L168.69,141.31 L169.62,141.24 L170.56,141.19 L171.51,141.15 L172.46,141.11 L173.41,141.08 L174.37,141.07 L175.33,141.06 L176.30,141.06 L177.27,141.07 L178.25,141.09 L179.24,141.12 L180.22,141.16 L181.22,141.21 L182.22,141.26 L183.22,141.33 L184.23,141.40 L185.24,141.48 L186.25,141.58 L187.28,141.68 L188.30,141.79 L189.33,141.90 L190.37,142.03 L191.41,142.17 L192.46,142.31 L193.51,142.47 L194.56,142.63 L195.63,142.80 L196.69,142.98 L197.76,143.17 L198.84,143.37 L199.92,143.58 L201.00,143.80 L202.09,144.02 L203.18,144.25 L204.28,144.50 L205.39,144.75 L206.50,145.01 L207.61,145.28 L208.73,145.55 L209.85,145.84 L210.98,146.13 L212.11,146.44 L213.25,146.75 L214.39,147.07 L215.54,147.40 L216.69,147.73 L217.85,148.08 L219.01,148.43 L220.18,148.80 L221.35,149.17 L222.53,149.55 L223.71,149.94 L224.90,150.33 L226.09,150.74 L227.28,151.15 L228.48,151.58 L229.69,152.01 L230.90,152.45 L232.11,152.89 L233.33,153.35 L234.56,153.81 L235.79,154.29 L237.02,154.77 L238.26,155.26 L239.51,155.75 L240.76,156.26 L242.01,156.77 L243.27,157.30 L244.53,157.83 L245.80,158.37 L247.07,158.91 L248.35,159.47 L249.63,160.03 L250.92,160.60 L252.21,161.18 L253.51,161.77 L254.81,162.37 L256.12,162.97 L257.43,163.58 L258.75,164.20 L260.07,164.83 L261.40,165.47 L262.73,166.11 L264.06,166.77 L265.40,167.43 L266.75,168.10 L268.10,168.77 L269.46,169.46 L270.82,170.15 L272.18,170.85 L273.55,171.56 L274.92,172.27 L276.30,173.00 L277.69,173.73 L279.08,174.47 L280.47,175.22 L281.87,175.97 L283.27,176.74 L284.68,177.51 L286.10,178.29 L287.51,179.07 L288.94,179.87 L290.36,180.67 L291.80,181.48 L293.23,182.30 L294.68,183.12 L296.12,183.96 L297.58,184.80 L299.03,185.64 L300.49,186.50 L301.96,187.36 L303.43,188.23 L304.91,189.10 L306.39,189.99 L307.87,190.88 L309.36,191.77 L310.86,192.67 L312.36,193.58 L313.86,194.50 L315.37,195.42 L316.89,196.35 L318.41,197.28 L319.93,198.23 L321.46,199.17 L323.00,200.13 L324.54,201.08 L326.08,202.05 L327.63,203.02 L329.18,204.00 L330.74,204.98 L332.30,205.97 L333.87,206.96 L335.44,207.96 L337.02,208.96 L338.60,209.97 L340.19,210.98 L341.78,212.00 L343.38,213.03 L344.98,214.05 L346.59,215.09 L348.20,216.13 L349.81,217.17 L351.44,218.22 L353.06,219.27 L354.69,220.33 L356.33,221.39 L357.97,222.45 L359.61,223.52 L361.26,224.60 L362.92,225.67 L364.58,226.76 L366.24,227.84 L367.91,228.93 L369.59,230.02 L371.26,231.12 L372.95,232.22 L374.64,233.32 L376.33,234.43 L378.03,235.54 L379.73,236.65 L381.44,237.77 L383.15,238.88 L384.87,240.00 L386.59,241.12 L388.32,242.24 L390.05,243.35 L391.79,244.47 L393.53,245.59 L395.28,246.70 L397.03,247.82 L398.79,248.93 L400.55,250.03 L402.31,251.14 L404.08,252.24 L405.86,253.34 L407.64,254.43 L409.42,255.52 L411.22,256.60 L413.01,257.68 L414.81,258.75 L416.61,259.81 L418.42,260.87 L420.24,261.92 L422.06,262.96 L423.88,263.99 L425.71,265.01 L427.54,266.03 L429.38,267.04 L431.23,268.03 L433.07,269.02 L434.93,269.99 L436.78,270.95 L438.65,271.90 L440.51,272.84 L442.39,273.77 L444.26,274.68 L446.15,275.58 L448.03,276.47 L449.92,277.34 L451.82,278.19 L453.72,279.04 L455.63,279.86 L457.54,280.67 L459.45,281.46 L461.37,282.24 L463.30,283.00" fill="none" stroke="#dc143c" stroke-width="1.9"/>
<g fill="#808080" fill-opacity="0.9">
<circle cx="159.47" cy="107.80" r="3.6"/>
<circle cx="167.16" cy="106.00" r="3.6"/>
<circle cx="174.85" cy="123.40" r="3.6"/>
<circle cx="182.54" cy="97.00" r="3.6"/>
<circle cx="190.23" cy="108.50" r="3.6"/>
<circle cx="197.93" cy="127.20" r="3.6"/>
<circle cx="205.62" cy="95.00" r="3.6"/>
<circle cx="213.31" cy="114.20" r="3.6"/>
<circle cx="221.00" cy="119.00" r="3.6"/>
<circle cx="228.69" cy="95.20" r="3.6"/>
<circle cx="236.39" cy="119.00" r="3.6"/>
<circle cx="244.08" cy="102.00" r="3.6"/>
<circle cx="251.77" cy="117.20" r="3.6"/>
<circle cx="259.46" cy="124.70" r="3.6"/>
<circle cx="267.15" cy="128.20" r="3.6"/>
<circle cx="274.85" cy="121.40" r="3.6"/>
<circle cx="282.54" cy="130.00" r="3.6"/>
<circle cx="290.23" cy="124.70" r="3.6"/>
<circle cx="297.92" cy="148.10" r="3.6"/>
<circle cx="305.61" cy="142.80" r="3.6"/>
<circle cx="313.31" cy="149.90" r="3.6"/>
<circle cx="321.00" cy="157.50" r="3.6"/>
<circle cx="328.69" cy="160.20" r="3.6"/>
<circle cx="336.38" cy="175.60" r="3.6"/>
<circle cx="344.07" cy="182.20" r="3.6"/>
<circle cx="351.77" cy="182.70" r="3.6"/>
<circle cx="359.46" cy="188.50" r="3.6"/>
<circle cx="367.15" cy="203.60" r="3.6"/>
<circle cx="374.84" cy="204.80" r="3.6"/>
<circle cx="382.53" cy="213.60" r="3.6"/>
<circle cx="390.23" cy="214.90" r="3.6"/>
<circle cx="397.92" cy="230.70" r="3.6"/>
<circle cx="405.61" cy="233.70" r="3.6"/>
<circle cx="413.30" cy="233.20" r="3.6"/>
<circle cx="420.99" cy="249.40" r="3.6"/>
<circle cx="428.69" cy="252.90" r="3.6"/>
<circle cx="436.38" cy="263.60" r="3.6"/>
<circle cx="444.07" cy="265.70" r="3.6"/>
<circle cx="451.76" cy="274.00" r="3.6"/>
<circle cx="459.45" cy="278.00" r="3.6"/>
</g></g>
<rect x="78.7" y="14.3" width="384.60" height="268.70" fill="none" stroke="#000" stroke-width="1.1"/>
<g stroke="#000" stroke-width="1.1">
<path d="M78.70,283.0v4.9"/>
<path d="M117.16,283.0v4.9"/>
<path d="M155.62,283.0v4.9"/>
<path d="M194.08,283.0v4.9"/>
<path d="M232.54,283.0v4.9"/>
<path d="M271.00,283.0v4.9"/>
<path d="M309.46,283.0v4.9"/>
<path d="M347.92,283.0v4.9"/>
<path d="M386.38,283.0v4.9"/>
<path d="M424.84,283.0v4.9"/>
<path d="M463.30,283.0v4.9"/>
<path d="M78.7,283.00h-4.9"/>
<path d="M78.7,229.26h-4.9"/>
<path d="M78.7,175.52h-4.9"/>
<path d="M78.7,121.78h-4.9"/>
<path d="M78.7,68.04h-4.9"/>
<path d="M78.7,14.30h-4.9"/>
</g>
<g style="font-kerning:none" opacity="0.999">
<text transform="translate(73.75,303.94) scale(1.2270,1)" font-size="16.15" stroke="#000" stroke-width="0.25">0</text>
<text transform="translate(105.54,303.87) scale(1.1739,1)" font-size="16.05" stroke="#000" stroke-width="0.25">0.1</text>
<text transform="translate(144.01,303.87) scale(1.1689,1)" font-size="16.05" stroke="#000" stroke-width="0.25">0.2</text>
<text transform="translate(182.48,303.87) scale(1.1529,1)" font-size="16.05" stroke="#000" stroke-width="0.25">0.3</text>
<text transform="translate(220.95,303.87) scale(1.1303,1)" font-size="16.05" stroke="#000" stroke-width="0.25">0.4</text>
<text transform="translate(259.40,303.87) scale(1.1529,1)" font-size="16.05" stroke="#000" stroke-width="0.25">0.5</text>
<text transform="translate(297.86,303.87) scale(1.1438,1)" font-size="16.05" stroke="#000" stroke-width="0.25">0.6</text>
<text transform="translate(336.32,303.87) scale(1.1429,1)" font-size="16.05" stroke="#000" stroke-width="0.25">0.7</text>
<text transform="translate(374.78,303.87) scale(1.1519,1)" font-size="16.05" stroke="#000" stroke-width="0.25">0.8</text>
<text transform="translate(413.23,303.87) scale(1.1548,1)" font-size="16.05" stroke="#000" stroke-width="0.25">0.9</text>
<text transform="translate(450.70,303.87) scale(1.2030,1)" font-size="16.05" stroke="#000" stroke-width="0.25">1.0</text>
<text transform="translate(46.40,289.07) scale(1.1519,1)" font-size="16.05" stroke="#000" stroke-width="0.25">0.0</text>
<text transform="translate(46.38,235.33) scale(1.1739,1)" font-size="16.05" stroke="#000" stroke-width="0.25">0.1</text>
<text transform="translate(46.39,181.59) scale(1.1689,1)" font-size="16.05" stroke="#000" stroke-width="0.25">0.2</text>
<text transform="translate(46.40,127.85) scale(1.1529,1)" font-size="16.05" stroke="#000" stroke-width="0.25">0.3</text>
<text transform="translate(46.41,74.11) scale(1.1303,1)" font-size="16.05" stroke="#000" stroke-width="0.25">0.4</text>
<text transform="translate(46.40,20.37) scale(1.1529,1)" font-size="16.05" stroke="#000" stroke-width="0.25">0.5</text>
<text transform="translate(265.19,332.40) scale(1.0630,1)" font-size="22.22" font-style="italic">x</text>
<g transform="translate(25.9,182.4) rotate(-90)">
<text transform="translate(0.30,0.00) scale(1.1354,1)" font-size="21.79" font-style="italic">x</text>
<text transform="translate(15.93,-0.66) scale(0.9809,1)" font-size="20.47" font-style="italic">q</text>
<text transform="translate(26.60,5.06) scale(0.8949,1)" font-size="14.08">v</text>
<text transform="translate(27.72,-9.04) scale(1.0546,1)" font-size="14.08" font-style="italic">π</text>
<text transform="translate(38.81,0.06) scale(0.8383,1)" font-size="24.15">(</text>
<text transform="translate(47.10,0.00) scale(1.1354,1)" font-size="21.79" font-style="italic">x</text>
<text transform="translate(59.66,0.06) scale(0.8222,1)" font-size="24.15">)</text>
</g>
<text transform="translate(156.12,229.32) scale(1.1917,1)" font-size="17.69" font-style="italic">μ</text>
<text transform="translate(168.01,221.60) scale(1.0493,1)" font-size="12.84" stroke="#000" stroke-width="0.2">2</text>
<text transform="translate(178.95,231.69) scale(1.1860,1)" font-size="21.20">=</text>
<text transform="translate(196.75,229.32) scale(1.0603,1)" font-size="18.31">27GeV</text>
<text transform="translate(253.24,221.60) scale(0.9910,1)" font-size="12.84" stroke="#000" stroke-width="0.2">2</text>
<path d="M328.6,23.6V37.3M325.4,23.6h6.4M325.4,37.3h6.4" stroke="#808080" stroke-width="1.2" fill="none"/>
<circle cx="328.6" cy="30.5" r="3.6" fill="#808080" fill-opacity="0.9"/>
<rect x="314.6" y="42.5" width="27.8" height="9.4" fill="#008000" fill-opacity="0.3"/>
<path d="M314.0,47.2H343.0" stroke="#008000" stroke-width="1.4"/>
<path d="M314.0,63.2H343.0" stroke="#bf00bf" stroke-width="1.5"/>
<rect x="314.6" y="74.7" width="27.8" height="9.4" fill="#0000ff" fill-opacity="0.5"/>
<path d="M314.0,79.4H343.0" stroke="#0000ff" stroke-width="2.3"/>
<rect x="314.6" y="90.6" width="27.8" height="9.4" fill="#dc143c" fill-opacity="0.5"/>
<path d="M314.0,95.3H343.0" stroke="#dc143c" stroke-width="1.8"/>
<text transform="translate(346.83,34.70) scale(1.0888,1)" font-size="15.00" stroke="#000" stroke-width="0.25">Conway</text>
<text transform="translate(406.18,34.70) scale(0.9096,1)" font-size="15.00" font-style="italic">et</text>
<text transform="translate(421.08,34.70) scale(0.9457,1)" font-size="15.00" font-style="italic">al</text>
<text transform="translate(436.67,34.70) scale(1.1007,1)" font-size="15.00" stroke="#000" stroke-width="0.25">[9]</text>
<text transform="translate(347.29,52.10) scale(0.9872,1)" font-size="15.00" stroke="#000" stroke-width="0.25">WRH</text>
<text transform="translate(386.52,52.10) scale(1.1466,1)" font-size="15.00" stroke="#000" stroke-width="0.25">[14]</text>
<text transform="translate(347.17,67.90) scale(0.9093,1)" font-size="15.00" stroke="#000" stroke-width="0.25">ASV</text>
<text transform="translate(379.73,67.90) scale(1.1422,1)" font-size="15.00" stroke="#000" stroke-width="0.25">[15]</text>
<text transform="translate(345.09,83.60) scale(0.9879,1)" font-size="15.00" stroke="#000" stroke-width="0.25">JAM</text>
<text transform="translate(379.73,83.60) scale(1.1422,1)" font-size="15.00" stroke="#000" stroke-width="0.25">[16]</text>
<text transform="translate(346.60,99.60) scale(1.1241,1)" font-size="15.00" stroke="#000" stroke-width="0.25">This calculation</text>
</g>
</svg></body></html>
